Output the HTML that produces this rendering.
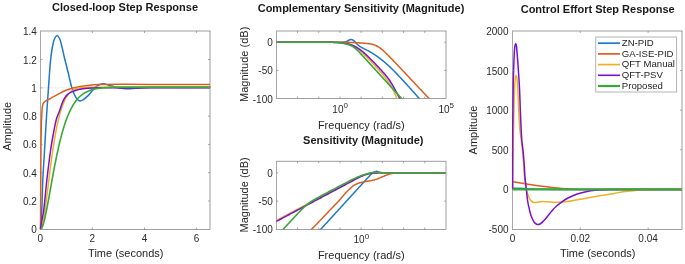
<!DOCTYPE html>
<html><head><meta charset="utf-8"><style>html,body{margin:0;padding:0;background:#fff;overflow:hidden}svg{display:block;will-change:transform}</style></head><body>
<svg width="685" height="264" viewBox="0 0 685 264" font-family='"Liberation Sans", sans-serif'>
<rect width="685" height="264" fill="#ffffff"/>
<defs>
<clipPath id="c1"><rect x="39.5" y="30.0" width="171.0" height="199.5"/></clipPath>
<clipPath id="c2"><rect x="275.5" y="30.0" width="171.0" height="68.5"/></clipPath>
<clipPath id="c3"><rect x="275.5" y="160.3" width="171.0" height="69.19999999999999"/></clipPath>
<clipPath id="c4"><rect x="511.5" y="30.0" width="171.0" height="199.5"/></clipPath>
</defs>
<line x1="40.0" y1="31.0" x2="210.5" y2="31.0" stroke="#9e9e9e" stroke-width="1"/>
<line x1="210.0" y1="31.0" x2="210.0" y2="229.5" stroke="#9e9e9e" stroke-width="1"/>
<line x1="40.5" y1="31.0" x2="40.5" y2="229.5" stroke="#a8a8a8" stroke-width="1"/>
<line x1="40.0" y1="229.5" x2="210.0" y2="229.5" stroke="#a0a0a0" stroke-width="1"/>
<line x1="276.0" y1="31.0" x2="446.5" y2="31.0" stroke="#9e9e9e" stroke-width="1"/>
<line x1="446.0" y1="31.0" x2="446.0" y2="98.5" stroke="#9e9e9e" stroke-width="1"/>
<line x1="276.5" y1="31.0" x2="276.5" y2="98.5" stroke="#a8a8a8" stroke-width="1"/>
<line x1="276.0" y1="98.5" x2="446.0" y2="98.5" stroke="#a0a0a0" stroke-width="1"/>
<line x1="276.0" y1="161.3" x2="446.5" y2="161.3" stroke="#9e9e9e" stroke-width="1"/>
<line x1="446.0" y1="161.3" x2="446.0" y2="229.5" stroke="#9e9e9e" stroke-width="1"/>
<line x1="276.5" y1="161.3" x2="276.5" y2="229.5" stroke="#a8a8a8" stroke-width="1"/>
<line x1="276.0" y1="229.5" x2="446.0" y2="229.5" stroke="#a0a0a0" stroke-width="1"/>
<line x1="512.0" y1="31.0" x2="682.5" y2="31.0" stroke="#9e9e9e" stroke-width="1"/>
<line x1="682.0" y1="31.0" x2="682.0" y2="229.5" stroke="#9e9e9e" stroke-width="1"/>
<line x1="512.5" y1="31.0" x2="512.5" y2="229.5" stroke="#a8a8a8" stroke-width="1"/>
<line x1="512.0" y1="229.5" x2="682.0" y2="229.5" stroke="#a0a0a0" stroke-width="1"/>
<line x1="40.5" y1="87.85" x2="210.0" y2="87.85" stroke="#dadada" stroke-width="0.8" stroke-dasharray="1.6,1.2"/>
<path d="M40.30,229.30 C40.78,223.20 41.36,217.85 41.75,211.00 C42.24,202.23 42.29,191.00 42.75,181.00 C43.21,171.00 43.91,161.08 44.50,151.00 C45.10,140.75 45.67,130.07 46.30,120.00 C46.90,110.43 47.51,101.64 48.20,92.00 C48.94,81.69 49.68,68.48 50.60,60.00 C51.21,54.37 51.80,49.92 52.60,46.00 C53.19,43.09 53.67,40.39 54.60,38.50 C55.26,37.16 56.19,35.43 57.00,35.40 C57.76,35.38 58.64,36.83 59.30,38.00 C60.26,39.70 60.76,42.29 61.50,45.00 C62.49,48.65 63.44,53.59 64.50,58.00 C65.60,62.59 66.84,67.29 68.00,72.00 C69.18,76.79 70.42,82.73 71.50,86.50 C72.20,88.95 72.72,90.61 73.50,92.50 C74.24,94.30 75.09,96.21 76.00,97.60 C76.72,98.70 77.48,99.76 78.30,100.30 C78.93,100.71 79.59,100.92 80.30,100.90 C81.14,100.87 82.00,100.49 83.00,99.90 C84.60,98.96 86.83,96.90 88.60,95.10 C90.48,93.19 92.23,90.38 93.90,88.70 C95.15,87.44 96.10,86.51 97.50,85.70 C99.05,84.80 100.97,83.80 102.90,83.70 C105.04,83.59 107.79,84.95 109.80,85.50 C111.38,85.93 112.47,86.30 114.00,86.70 C115.82,87.17 117.99,87.75 120.00,88.10 C121.99,88.45 124.00,88.72 126.00,88.80 C128.00,88.88 129.86,88.73 132.00,88.60 C134.48,88.45 137.18,88.08 140.00,87.90 C143.15,87.70 146.09,87.58 150.00,87.50 C155.52,87.39 162.19,87.49 170.00,87.50 C181.05,87.51 196.67,87.57 210.00,87.60" fill="none" stroke="#1f78c8" stroke-width="1.5" stroke-linejoin="round" stroke-linecap="butt" clip-path="url(#c1)"/>
<path d="M40.30,229.30 C40.37,221.20 40.42,213.07 40.50,205.00 C40.57,196.98 40.68,189.45 40.75,181.00 C40.83,171.56 40.84,160.64 40.95,151.00 C41.05,142.02 41.14,132.18 41.35,125.00 C41.50,119.92 41.65,115.50 41.90,112.00 C42.07,109.62 42.15,107.66 42.50,106.00 C42.75,104.78 42.94,103.73 43.50,102.90 C44.01,102.13 44.76,101.68 45.60,101.10 C46.65,100.37 48.13,99.70 49.40,99.00 C50.67,98.30 51.79,97.68 53.20,96.90 C54.97,95.92 57.35,94.61 59.20,93.60 C60.78,92.73 61.87,91.98 63.60,91.20 C65.90,90.16 69.11,89.00 71.90,88.20 C74.64,87.41 77.47,86.87 80.20,86.40 C82.83,85.95 85.12,85.68 88.00,85.40 C91.57,85.05 95.40,84.78 100.00,84.60 C106.23,84.35 114.22,84.34 122.00,84.30 C130.77,84.26 138.91,84.38 150.00,84.40 C166.23,84.43 190.00,84.40 210.00,84.40" fill="none" stroke="#dd5d20" stroke-width="1.5" stroke-linejoin="round" stroke-linecap="butt" clip-path="url(#c1)"/>
<path d="M40.30,229.30 L40.56,229.54 L40.82,229.56 L41.08,229.39 L41.34,229.03 L41.60,228.49 L41.86,227.80 L42.12,226.95 L42.38,225.97 L42.64,224.86 L42.91,223.63 L43.17,222.29 L43.43,220.86 L43.69,219.33 L43.95,217.72 L44.21,216.04 L44.47,214.29 L44.73,212.47 L44.99,210.61 L45.25,208.69 L45.51,206.73 L45.77,204.74 L46.03,202.71 L46.29,200.66 L46.55,198.59 L46.81,196.50 L47.07,194.39 L47.33,192.28 L47.59,190.15 L47.85,188.03 L48.11,185.91 L48.38,183.79 L48.64,181.67 L48.90,179.57 L49.16,177.47 L49.42,175.39 L49.68,173.32 L49.94,171.27 L50.20,169.24 L50.46,167.23 L50.72,165.24 L50.98,163.27 L51.24,161.33 L51.50,159.42 L51.76,157.53 L52.02,155.66 L52.28,153.83 L52.54,152.02 L52.80,150.25 L53.06,148.50 L53.32,146.78 L53.59,145.10 L53.85,143.44 L54.11,141.82 L54.37,140.23 L54.63,138.67 L54.89,137.14 L55.15,135.64 L55.41,134.18 L55.67,132.75 L55.93,131.34 L56.19,129.97 L56.71,127.32 L57.23,124.79 L57.76,122.39 L58.28,120.10 L58.80,117.93 L59.32,115.87 L59.84,113.92 L60.37,112.08 L60.89,110.34 L61.41,108.69 L61.93,107.15 L62.45,105.69 L62.97,104.32 L63.50,103.04 L64.02,101.83 L64.54,100.70 L65.06,99.65 L65.58,98.66 L66.11,97.74 L66.63,96.88 L67.15,96.07 L67.67,95.33 L68.19,94.63 L68.72,93.99 L69.24,93.39 L69.76,92.84 L70.28,92.32 L70.80,91.85 L71.32,91.41 L71.85,91.01 L72.37,90.64 L72.89,90.29 L73.41,89.98 L73.93,89.69 L74.46,89.43 L74.98,89.19 L75.50,88.97 L76.02,88.77 L76.54,88.58 L77.07,88.42 L77.59,88.26 L78.11,88.13 L78.63,88.01 L79.15,87.89 L79.67,87.79 L80.20,87.70 L80.72,87.62 L81.24,87.55 L81.76,87.49 L82.28,87.43 L82.81,87.38 L83.33,87.34 L83.85,87.30 L84.37,87.27 L84.89,87.24 L85.42,87.22 L85.94,87.20 L86.46,87.18 L86.98,87.17 L87.50,87.16 L88.02,87.15 L88.55,87.14 L89.07,87.14 L89.59,87.13 L90.11,87.13 L90.63,87.13 L91.16,87.13 L91.68,87.13 L92.20,87.14 L92.72,87.14 L93.24,87.15 L93.77,87.15 L94.29,87.15 L94.81,87.16 L95.33,87.17 L95.85,87.17 L96.37,87.18 L96.90,87.18 L97.42,87.19 L97.94,87.20 L98.46,87.20 L98.98,87.21 L99.51,87.22 L100.03,87.22 L100.55,87.23 L101.07,87.23 L101.59,87.24 L102.12,87.24 L102.64,87.25 L103.16,87.25 L103.68,87.26 L104.20,87.26 L104.72,87.27 L105.25,87.27 L105.77,87.28 L106.29,87.28 L106.81,87.28 L107.33,87.29 L107.86,87.29 L108.38,87.29 L108.90,87.30 L109.42,87.30 L109.94,87.30 L110.47,87.31 L110.99,87.31 L111.51,87.31 L112.03,87.31 L112.55,87.32 L113.07,87.32 L113.60,87.32 L114.12,87.32 L114.64,87.32 L115.16,87.32 L115.68,87.33 L116.21,87.33 L116.73,87.33 L117.25,87.33 L117.77,87.33 L118.29,87.33 L118.82,87.33 L119.34,87.33 L119.86,87.33 L120.38,87.33 L120.90,87.33 L121.42,87.34 L121.95,87.34 L122.47,87.34 L122.99,87.34 L123.51,87.34 L124.03,87.34 L124.56,87.34 L125.08,87.34 L125.60,87.34 L126.12,87.34 L126.64,87.34 L127.16,87.34 L127.69,87.34 L128.21,87.34 L128.73,87.34 L129.25,87.34 L129.77,87.34 L130.30,87.34 L130.82,87.34 L131.34,87.34 L131.86,87.34 L132.38,87.34 L132.91,87.34 L133.43,87.34 L133.95,87.34 L134.47,87.34 L134.99,87.34 L135.51,87.34 L136.04,87.34 L136.56,87.34 L137.08,87.34 L137.60,87.34 L138.12,87.34 L138.65,87.34 L139.17,87.34 L139.69,87.34 L140.21,87.34 L140.73,87.34 L141.26,87.34 L141.78,87.34 L142.30,87.34 L142.82,87.34 L143.34,87.34 L143.86,87.34 L144.39,87.34 L144.91,87.34 L145.43,87.34 L145.95,87.34 L146.47,87.34 L147.00,87.34 L147.52,87.34 L148.04,87.34 L148.56,87.34 L149.08,87.34 L149.61,87.34 L150.13,87.34 L150.65,87.34 L151.17,87.34 L151.69,87.34 L152.21,87.34 L152.74,87.34 L153.26,87.34 L153.78,87.34 L154.30,87.34 L154.82,87.34 L155.35,87.34 L155.87,87.34 L156.39,87.34 L156.91,87.34 L157.43,87.34 L157.96,87.34 L158.48,87.34 L159.00,87.34 L159.52,87.34 L160.04,87.34 L160.56,87.34 L161.09,87.34 L161.61,87.34 L162.13,87.34 L162.65,87.34 L163.17,87.34 L163.70,87.34 L164.22,87.34 L164.74,87.34 L165.26,87.34 L165.78,87.34 L166.31,87.34 L166.83,87.34 L167.35,87.34 L167.87,87.34 L168.39,87.34 L168.91,87.34 L169.44,87.34 L169.96,87.34 L170.48,87.34 L171.00,87.34 L171.52,87.34 L172.05,87.34 L172.57,87.34 L173.09,87.34 L173.61,87.34 L174.13,87.34 L174.66,87.34 L175.18,87.34 L175.70,87.34 L176.22,87.34 L176.74,87.34 L177.26,87.34 L177.79,87.34 L178.31,87.34 L178.83,87.34 L179.35,87.34 L179.87,87.34 L180.40,87.34 L180.92,87.34 L181.44,87.34 L181.96,87.34 L182.48,87.34 L183.01,87.34 L183.53,87.34 L184.05,87.34 L184.57,87.34 L185.09,87.34 L185.61,87.34 L186.14,87.34 L186.66,87.34 L187.18,87.34 L187.70,87.34 L188.22,87.34 L188.75,87.34 L189.27,87.34 L189.79,87.34 L190.31,87.34 L190.83,87.34 L191.36,87.34 L191.88,87.34 L192.40,87.34 L192.92,87.34 L193.44,87.34 L193.96,87.34 L194.49,87.34 L195.01,87.34 L195.53,87.34 L196.05,87.34 L196.57,87.34 L197.10,87.34 L197.62,87.34 L198.14,87.34 L198.66,87.34 L199.18,87.34 L199.71,87.34 L200.23,87.34 L200.75,87.34 L201.27,87.34 L201.79,87.34 L202.31,87.34 L202.84,87.34 L203.36,87.34 L203.88,87.34 L204.40,87.34 L204.92,87.34 L205.45,87.34 L205.97,87.34 L206.49,87.34 L207.01,87.34 L207.53,87.34 L208.06,87.34 L208.58,87.34 L209.10,87.34 L209.62,87.34 L210.14,87.34 L210.66,87.34 L211.19,87.34 L211.71,87.34 L212.23,87.34" fill="none" stroke="#edb125" stroke-width="1.5" stroke-linejoin="round" stroke-linecap="butt" clip-path="url(#c1)"/>
<path d="M40.30,229.30 C40.80,226.53 41.28,223.90 41.80,221.00 C42.37,217.82 43.00,215.24 43.60,211.00 C44.64,203.69 45.60,190.99 46.75,181.00 C47.90,170.99 49.26,159.58 50.50,151.00 C51.44,144.52 52.24,139.57 53.30,134.00 C54.33,128.57 55.43,122.37 56.75,118.00 C57.71,114.83 59.01,112.46 59.90,110.00 C60.65,107.92 61.06,106.12 61.80,104.20 C62.56,102.22 63.37,99.98 64.40,98.30 C65.28,96.86 66.25,95.64 67.40,94.60 C68.52,93.58 69.66,92.85 71.20,92.10 C73.23,91.12 76.04,90.22 78.70,89.60 C81.60,88.92 84.69,88.60 88.00,88.30 C91.74,87.96 95.40,87.89 100.00,87.80 C106.23,87.68 114.23,87.90 122.00,87.90 C130.77,87.90 138.91,87.82 150.00,87.80 C166.23,87.76 190.00,87.77 210.00,87.75" fill="none" stroke="#7a10d2" stroke-width="1.5" stroke-linejoin="round" stroke-linecap="butt" clip-path="url(#c1)"/>
<path d="M40.30,229.30 L40.56,229.31 L40.82,229.21 L41.08,229.02 L41.34,228.74 L41.60,228.37 L41.86,227.92 L42.12,227.39 L42.38,226.79 L42.64,226.12 L42.91,225.38 L43.17,224.58 L43.43,223.73 L43.69,222.82 L43.95,221.86 L44.21,220.85 L44.47,219.79 L44.73,218.70 L44.99,217.56 L45.25,216.39 L45.51,215.19 L45.77,213.95 L46.03,212.69 L46.29,211.40 L46.55,210.09 L46.81,208.75 L47.07,207.40 L47.33,206.03 L47.59,204.64 L47.85,203.24 L48.11,201.82 L48.38,200.40 L48.64,198.96 L48.90,197.52 L49.16,196.07 L49.42,194.62 L49.68,193.16 L49.94,191.70 L50.20,190.24 L50.46,188.78 L50.72,187.32 L50.98,185.86 L51.24,184.41 L51.50,182.95 L51.76,181.51 L52.02,180.06 L52.28,178.63 L52.54,177.20 L52.80,175.78 L53.06,174.36 L53.32,172.96 L53.59,171.56 L53.85,170.18 L54.11,168.80 L54.37,167.44 L54.63,166.09 L54.89,164.75 L55.15,163.42 L55.41,162.10 L55.67,160.79 L55.93,159.50 L56.19,158.22 L56.71,155.70 L57.23,153.24 L57.76,150.83 L58.28,148.48 L58.80,146.19 L59.32,143.96 L59.84,141.79 L60.37,139.68 L60.89,137.63 L61.41,135.64 L61.93,133.71 L62.45,131.84 L62.97,130.03 L63.50,128.28 L64.02,126.58 L64.54,124.94 L65.06,123.35 L65.58,121.82 L66.11,120.34 L66.63,118.92 L67.15,117.54 L67.67,116.22 L68.19,114.94 L68.72,113.71 L69.24,112.53 L69.76,111.39 L70.28,110.30 L70.80,109.25 L71.32,108.24 L71.85,107.27 L72.37,106.34 L72.89,105.44 L73.41,104.59 L73.93,103.76 L74.46,102.98 L74.98,102.22 L75.50,101.50 L76.02,100.80 L76.54,100.14 L77.07,99.51 L77.59,98.90 L78.11,98.32 L78.63,97.77 L79.15,97.24 L79.67,96.73 L80.20,96.25 L80.72,95.78 L81.24,95.34 L81.76,94.92 L82.28,94.52 L82.81,94.14 L83.33,93.77 L83.85,93.43 L84.37,93.10 L84.89,92.78 L85.42,92.48 L85.94,92.19 L86.46,91.92 L86.98,91.66 L87.50,91.42 L88.02,91.18 L88.55,90.96 L89.07,90.75 L89.59,90.55 L90.11,90.35 L90.63,90.17 L91.16,90.00 L91.68,89.84 L92.20,89.68 L92.72,89.53 L93.24,89.40 L93.77,89.26 L94.29,89.14 L94.81,89.02 L95.33,88.91 L95.85,88.80 L96.37,88.70 L96.90,88.60 L97.42,88.51 L97.94,88.43 L98.46,88.35 L98.98,88.27 L99.51,88.20 L100.03,88.13 L100.55,88.06 L101.07,88.00 L101.59,87.95 L102.12,87.89 L102.64,87.84 L103.16,87.79 L103.68,87.75 L104.20,87.70 L104.72,87.66 L105.25,87.63 L105.77,87.59 L106.29,87.56 L106.81,87.52 L107.33,87.49 L107.86,87.47 L108.38,87.44 L108.90,87.41 L109.42,87.39 L109.94,87.37 L110.47,87.35 L110.99,87.33 L111.51,87.31 L112.03,87.30 L112.55,87.28 L113.07,87.26 L113.60,87.25 L114.12,87.24 L114.64,87.23 L115.16,87.21 L115.68,87.20 L116.21,87.19 L116.73,87.19 L117.25,87.18 L117.77,87.17 L118.29,87.16 L118.82,87.15 L119.34,87.15 L119.86,87.14 L120.38,87.14 L120.90,87.13 L121.42,87.13 L121.95,87.12 L122.47,87.12 L122.99,87.11 L123.51,87.11 L124.03,87.11 L124.56,87.10 L125.08,87.10 L125.60,87.10 L126.12,87.10 L126.64,87.10 L127.16,87.09 L127.69,87.09 L128.21,87.09 L128.73,87.09 L129.25,87.09 L129.77,87.09 L130.30,87.08 L130.82,87.08 L131.34,87.08 L131.86,87.08 L132.38,87.08 L132.91,87.08 L133.43,87.08 L133.95,87.08 L134.47,87.08 L134.99,87.08 L135.51,87.08 L136.04,87.08 L136.56,87.08 L137.08,87.08 L137.60,87.08 L138.12,87.08 L138.65,87.08 L139.17,87.08 L139.69,87.08 L140.21,87.08 L140.73,87.08 L141.26,87.08 L141.78,87.08 L142.30,87.08 L142.82,87.08 L143.34,87.08 L143.86,87.08 L144.39,87.08 L144.91,87.08 L145.43,87.08 L145.95,87.08 L146.47,87.08 L147.00,87.08 L147.52,87.08 L148.04,87.08 L148.56,87.08 L149.08,87.08 L149.61,87.08 L150.13,87.08 L150.65,87.08 L151.17,87.08 L151.69,87.08 L152.21,87.08 L152.74,87.08 L153.26,87.08 L153.78,87.08 L154.30,87.08 L154.82,87.08 L155.35,87.08 L155.87,87.08 L156.39,87.08 L156.91,87.08 L157.43,87.08 L157.96,87.08 L158.48,87.08 L159.00,87.08 L159.52,87.08 L160.04,87.08 L160.56,87.08 L161.09,87.08 L161.61,87.08 L162.13,87.08 L162.65,87.08 L163.17,87.08 L163.70,87.08 L164.22,87.08 L164.74,87.08 L165.26,87.08 L165.78,87.08 L166.31,87.08 L166.83,87.08 L167.35,87.08 L167.87,87.08 L168.39,87.08 L168.91,87.08 L169.44,87.08 L169.96,87.08 L170.48,87.08 L171.00,87.09 L171.52,87.09 L172.05,87.09 L172.57,87.09 L173.09,87.09 L173.61,87.09 L174.13,87.09 L174.66,87.09 L175.18,87.09 L175.70,87.09 L176.22,87.09 L176.74,87.09 L177.26,87.09 L177.79,87.09 L178.31,87.09 L178.83,87.09 L179.35,87.09 L179.87,87.09 L180.40,87.09 L180.92,87.09 L181.44,87.09 L181.96,87.09 L182.48,87.09 L183.01,87.09 L183.53,87.09 L184.05,87.09 L184.57,87.09 L185.09,87.09 L185.61,87.09 L186.14,87.09 L186.66,87.09 L187.18,87.09 L187.70,87.09 L188.22,87.09 L188.75,87.09 L189.27,87.09 L189.79,87.09 L190.31,87.09 L190.83,87.09 L191.36,87.09 L191.88,87.09 L192.40,87.09 L192.92,87.09 L193.44,87.09 L193.96,87.09 L194.49,87.09 L195.01,87.09 L195.53,87.09 L196.05,87.09 L196.57,87.09 L197.10,87.09 L197.62,87.09 L198.14,87.09 L198.66,87.09 L199.18,87.09 L199.71,87.09 L200.23,87.09 L200.75,87.09 L201.27,87.09 L201.79,87.09 L202.31,87.09 L202.84,87.09 L203.36,87.09 L203.88,87.09 L204.40,87.09 L204.92,87.09 L205.45,87.09 L205.97,87.09 L206.49,87.09 L207.01,87.09 L207.53,87.09 L208.06,87.09 L208.58,87.09 L209.10,87.09 L209.62,87.09 L210.14,87.09 L210.66,87.09 L211.19,87.09 L211.71,87.09 L212.23,87.09" fill="none" stroke="#38a838" stroke-width="1.6" stroke-linejoin="round" stroke-linecap="butt" clip-path="url(#c1)"/>
<line x1="92.4" y1="229.5" x2="92.4" y2="227.6" stroke="#8a8a8a" stroke-width="0.8"/>
<line x1="92.4" y1="31.0" x2="92.4" y2="32.9" stroke="#8a8a8a" stroke-width="0.8"/>
<line x1="144.5" y1="229.5" x2="144.5" y2="227.6" stroke="#8a8a8a" stroke-width="0.8"/>
<line x1="144.5" y1="31.0" x2="144.5" y2="32.9" stroke="#8a8a8a" stroke-width="0.8"/>
<line x1="196.60000000000002" y1="229.5" x2="196.60000000000002" y2="227.6" stroke="#8a8a8a" stroke-width="0.8"/>
<line x1="196.60000000000002" y1="31.0" x2="196.60000000000002" y2="32.9" stroke="#8a8a8a" stroke-width="0.8"/>
<line x1="40.5" y1="201.01000000000002" x2="42.4" y2="201.01000000000002" stroke="#8a8a8a" stroke-width="0.8"/>
<line x1="210.0" y1="201.01000000000002" x2="208.1" y2="201.01000000000002" stroke="#8a8a8a" stroke-width="0.8"/>
<line x1="40.5" y1="172.72000000000003" x2="42.4" y2="172.72000000000003" stroke="#8a8a8a" stroke-width="0.8"/>
<line x1="210.0" y1="172.72000000000003" x2="208.1" y2="172.72000000000003" stroke="#8a8a8a" stroke-width="0.8"/>
<line x1="40.5" y1="144.43" x2="42.4" y2="144.43" stroke="#8a8a8a" stroke-width="0.8"/>
<line x1="210.0" y1="144.43" x2="208.1" y2="144.43" stroke="#8a8a8a" stroke-width="0.8"/>
<line x1="40.5" y1="116.14000000000001" x2="42.4" y2="116.14000000000001" stroke="#8a8a8a" stroke-width="0.8"/>
<line x1="210.0" y1="116.14000000000001" x2="208.1" y2="116.14000000000001" stroke="#8a8a8a" stroke-width="0.8"/>
<line x1="40.5" y1="87.85000000000002" x2="42.4" y2="87.85000000000002" stroke="#8a8a8a" stroke-width="0.8"/>
<line x1="210.0" y1="87.85000000000002" x2="208.1" y2="87.85000000000002" stroke="#8a8a8a" stroke-width="0.8"/>
<line x1="40.5" y1="59.56000000000003" x2="42.4" y2="59.56000000000003" stroke="#8a8a8a" stroke-width="0.8"/>
<line x1="210.0" y1="59.56000000000003" x2="208.1" y2="59.56000000000003" stroke="#8a8a8a" stroke-width="0.8"/>
<text x="36.9" y="233.3" font-size="10" text-anchor="end" font-weight="normal" fill="#2a2a2a">0</text>
<text x="36.9" y="205.01000000000002" font-size="10" text-anchor="end" font-weight="normal" fill="#2a2a2a">0.2</text>
<text x="36.9" y="176.72000000000003" font-size="10" text-anchor="end" font-weight="normal" fill="#2a2a2a">0.4</text>
<text x="36.9" y="148.43" font-size="10" text-anchor="end" font-weight="normal" fill="#2a2a2a">0.6</text>
<text x="36.9" y="120.14000000000001" font-size="10" text-anchor="end" font-weight="normal" fill="#2a2a2a">0.8</text>
<text x="36.9" y="91.85000000000002" font-size="10" text-anchor="end" font-weight="normal" fill="#2a2a2a">1</text>
<text x="36.9" y="63.56" font-size="10" text-anchor="end" font-weight="normal" fill="#2a2a2a">1.2</text>
<text x="36.9" y="35.27000000000001" font-size="10" text-anchor="end" font-weight="normal" fill="#2a2a2a">1.4</text>
<text x="40.3" y="241.8" font-size="10" text-anchor="middle" font-weight="normal" fill="#2a2a2a">0</text>
<text x="92.4" y="241.8" font-size="10" text-anchor="middle" font-weight="normal" fill="#2a2a2a">2</text>
<text x="144.5" y="241.8" font-size="10" text-anchor="middle" font-weight="normal" fill="#2a2a2a">4</text>
<text x="196.60000000000002" y="241.8" font-size="10" text-anchor="middle" font-weight="normal" fill="#2a2a2a">6</text>
<text x="125.8" y="256.8" font-size="11" text-anchor="middle" font-weight="normal" fill="#262626">Time (seconds)</text>
<text x="0" y="0" font-size="11" text-anchor="middle" fill="#262626" transform="translate(10.6,126.3) rotate(-90)">Amplitude</text>
<text x="125.0" y="10.7" font-size="11" text-anchor="middle" font-weight="bold" fill="#1a1a1a">Closed-loop Step Response</text>
<path d="M276.30,42.20 L276.80,42.20 L277.30,42.20 L277.80,42.20 L278.30,42.20 L278.80,42.20 L279.30,42.20 L279.80,42.20 L280.30,42.20 L280.80,42.20 L281.30,42.20 L281.80,42.20 L282.30,42.20 L282.80,42.20 L283.30,42.20 L283.80,42.20 L284.30,42.20 L284.80,42.20 L285.30,42.20 L285.80,42.20 L286.30,42.20 L286.80,42.20 L287.30,42.20 L287.80,42.20 L288.30,42.20 L288.80,42.20 L289.30,42.20 L289.80,42.20 L290.30,42.20 L290.80,42.20 L291.30,42.20 L291.80,42.20 L292.30,42.20 L292.80,42.20 L293.30,42.20 L293.80,42.20 L294.30,42.20 L294.80,42.20 L295.30,42.20 L295.80,42.20 L296.30,42.20 L296.80,42.20 L297.30,42.20 L297.80,42.20 L298.30,42.20 L298.80,42.20 L299.30,42.20 L299.80,42.20 L300.30,42.20 L300.80,42.20 L301.30,42.20 L301.80,42.20 L302.30,42.20 L302.80,42.20 L303.30,42.20 L303.80,42.20 L304.30,42.20 L304.80,42.20 L305.30,42.20 L305.80,42.20 L306.30,42.20 L306.80,42.20 L307.30,42.20 L307.80,42.20 L308.30,42.20 L308.80,42.20 L309.30,42.20 L309.80,42.20 L310.30,42.20 L310.80,42.20 L311.30,42.20 L311.80,42.20 L312.30,42.20 L312.80,42.20 L313.30,42.20 L313.80,42.20 L314.30,42.20 L314.80,42.20 L315.30,42.20 L315.80,42.20 L316.30,42.20 L316.80,42.20 L317.30,42.20 L317.80,42.20 L318.30,42.21 L318.80,42.21 L319.30,42.21 L319.80,42.21 L320.30,42.21 L320.80,42.21 L321.30,42.21 L321.80,42.21 L322.30,42.21 L322.80,42.21 L323.30,42.21 L323.80,42.21 L324.30,42.21 L324.80,42.21 L325.30,42.21 L325.80,42.21 L326.30,42.21 L326.80,42.21 L327.30,42.21 L327.80,42.22 L328.30,42.22 L328.80,42.22 L329.30,42.22 L329.80,42.22 L330.30,42.22 L330.80,42.22 L331.30,42.22 L331.80,42.22 L332.30,42.23 L332.80,42.23 L333.30,42.23 L333.80,42.23 L334.30,42.23 L334.80,42.23 L335.30,42.24 L335.80,42.24 L336.30,42.24 L336.80,42.24 L337.30,42.25 L337.80,42.25 L338.30,42.25 L338.80,42.25 L339.30,42.26 L339.80,42.26 L340.30,42.26 L340.80,42.25 L341.30,42.25 L341.80,42.23 L342.30,42.21 L342.80,42.19 L343.30,42.15 L343.80,42.09 L344.30,42.01 L344.80,41.91 L345.30,41.79 L345.80,41.64 L346.30,41.46 L346.80,41.25 L347.30,41.02 L347.80,40.77 L348.30,40.51 L348.80,40.25 L349.30,40.02 L349.80,39.82 L350.30,39.66 L350.80,39.57 L351.30,39.55 L351.80,39.61 L352.30,39.76 L352.80,39.99 L353.30,40.30 L353.80,40.69 L354.30,41.13 L354.80,41.62 L355.30,42.14 L355.80,42.67 L356.30,43.21 L356.80,43.73 L357.30,44.23 L357.80,44.71 L358.30,45.16 L358.80,45.57 L359.30,45.95 L359.80,46.31 L360.30,46.64 L360.80,46.95 L361.30,47.24 L361.80,47.52 L362.30,47.79 L362.80,48.05 L363.30,48.31 L363.80,48.57 L364.30,48.82 L364.80,49.08 L365.30,49.33 L365.80,49.59 L366.30,49.85 L366.80,50.11 L367.30,50.38 L367.80,50.65 L368.30,50.92 L368.80,51.20 L369.30,51.47 L369.80,51.76 L370.30,52.04 L370.80,52.33 L371.30,52.63 L371.80,52.92 L372.30,53.23 L372.80,53.53 L373.30,53.84 L373.80,54.16 L374.30,54.48 L374.80,54.80 L375.30,55.13 L375.80,55.47 L376.30,55.81 L376.80,56.15 L377.30,56.50 L377.80,56.85 L378.30,57.21 L378.80,57.58 L379.30,57.95 L379.80,58.32 L380.30,58.70 L380.80,59.09 L381.30,59.48 L381.80,59.88 L382.30,60.28 L382.80,60.68 L383.30,61.10 L383.80,61.51 L384.30,61.93 L384.80,62.36 L385.30,62.79 L385.80,63.23 L386.30,63.67 L386.80,64.12 L387.30,64.57 L387.80,65.02 L388.30,65.48 L388.80,65.95 L389.30,66.41 L389.80,66.89 L390.30,67.36 L390.80,67.84 L391.30,68.33 L391.80,68.81 L392.30,69.30 L392.80,69.80 L393.30,70.30 L393.80,70.80 L394.30,71.30 L394.80,71.81 L395.30,72.32 L395.80,72.83 L396.30,73.34 L396.80,73.86 L397.30,74.38 L397.80,74.90 L398.30,75.43 L398.80,75.95 L399.30,76.48 L399.80,77.01 L400.30,77.54 L400.80,78.08 L401.30,78.61 L401.80,79.15 L402.30,79.69 L402.80,80.23 L403.30,80.77 L403.80,81.31 L404.30,81.86 L404.80,82.40 L405.30,82.95 L405.80,83.49 L406.30,84.04 L406.80,84.59 L407.30,85.14 L407.80,85.69 L408.30,86.25 L408.80,86.80 L409.30,87.35 L409.80,87.91 L410.30,88.46 L410.80,89.02 L411.30,89.57 L411.80,90.13 L412.30,90.69 L412.80,91.25 L413.30,91.80 L413.80,92.36 L414.30,92.92 L414.80,93.48 L415.30,94.04 L415.80,94.60 L416.30,95.16 L416.80,95.72 L417.30,96.28 L417.80,96.85 L418.30,97.41 L418.80,97.97 L419.30,98.53 L419.80,99.10 L420.30,99.66 L420.80,100.22 L421.30,100.78" fill="none" stroke="#1f78c8" stroke-width="1.5" stroke-linejoin="round" stroke-linecap="butt" clip-path="url(#c2)"/>
<path d="M276.30,42.20 L276.80,42.20 L277.30,42.20 L277.80,42.20 L278.30,42.20 L278.80,42.20 L279.30,42.20 L279.80,42.20 L280.30,42.20 L280.80,42.20 L281.30,42.20 L281.80,42.20 L282.30,42.20 L282.80,42.20 L283.30,42.20 L283.80,42.20 L284.30,42.20 L284.80,42.20 L285.30,42.20 L285.80,42.20 L286.30,42.20 L286.80,42.20 L287.30,42.20 L287.80,42.20 L288.30,42.20 L288.80,42.20 L289.30,42.20 L289.80,42.20 L290.30,42.20 L290.80,42.20 L291.30,42.20 L291.80,42.20 L292.30,42.20 L292.80,42.20 L293.30,42.20 L293.80,42.20 L294.30,42.20 L294.80,42.20 L295.30,42.20 L295.80,42.20 L296.30,42.20 L296.80,42.20 L297.30,42.20 L297.80,42.20 L298.30,42.20 L298.80,42.20 L299.30,42.20 L299.80,42.20 L300.30,42.20 L300.80,42.20 L301.30,42.20 L301.80,42.20 L302.30,42.20 L302.80,42.20 L303.30,42.20 L303.80,42.20 L304.30,42.20 L304.80,42.20 L305.30,42.20 L305.80,42.20 L306.30,42.20 L306.80,42.20 L307.30,42.20 L307.80,42.20 L308.30,42.20 L308.80,42.20 L309.30,42.20 L309.80,42.20 L310.30,42.20 L310.80,42.20 L311.30,42.20 L311.80,42.20 L312.30,42.20 L312.80,42.20 L313.30,42.20 L313.80,42.20 L314.30,42.20 L314.80,42.20 L315.30,42.20 L315.80,42.20 L316.30,42.20 L316.80,42.20 L317.30,42.20 L317.80,42.20 L318.30,42.20 L318.80,42.20 L319.30,42.20 L319.80,42.20 L320.30,42.20 L320.80,42.20 L321.30,42.20 L321.80,42.20 L322.30,42.20 L322.80,42.20 L323.30,42.20 L323.80,42.20 L324.30,42.20 L324.80,42.20 L325.30,42.20 L325.80,42.20 L326.30,42.20 L326.80,42.20 L327.30,42.20 L327.80,42.20 L328.30,42.20 L328.80,42.20 L329.30,42.20 L329.80,42.20 L330.30,42.20 L330.80,42.20 L331.30,42.20 L331.80,42.20 L332.30,42.20 L332.80,42.20 L333.30,42.20 L333.80,42.20 L334.30,42.20 L334.80,42.20 L335.30,42.20 L335.80,42.20 L336.30,42.20 L336.80,42.20 L337.30,42.20 L337.80,42.20 L338.30,42.20 L338.80,42.21 L339.30,42.21 L339.80,42.21 L340.30,42.21 L340.80,42.21 L341.30,42.22 L341.80,42.22 L342.30,42.22 L342.80,42.23 L343.30,42.23 L343.80,42.24 L344.30,42.24 L344.80,42.25 L345.30,42.26 L345.80,42.27 L346.30,42.28 L346.80,42.30 L347.30,42.31 L347.80,42.33 L348.30,42.34 L348.80,42.36 L349.30,42.38 L349.80,42.40 L350.30,42.42 L350.80,42.44 L351.30,42.47 L351.80,42.49 L352.30,42.51 L352.80,42.54 L353.30,42.56 L353.80,42.59 L354.30,42.61 L354.80,42.64 L355.30,42.67 L355.80,42.69 L356.30,42.72 L356.80,42.75 L357.30,42.77 L357.80,42.80 L358.30,42.83 L358.80,42.86 L359.30,42.89 L359.80,42.92 L360.30,42.95 L360.80,42.98 L361.30,43.01 L361.80,43.04 L362.30,43.07 L362.80,43.11 L363.30,43.14 L363.80,43.18 L364.30,43.22 L364.80,43.26 L365.30,43.30 L365.80,43.34 L366.30,43.39 L366.80,43.44 L367.30,43.49 L367.80,43.55 L368.30,43.61 L368.80,43.67 L369.30,43.74 L369.80,43.82 L370.30,43.90 L370.80,43.99 L371.30,44.09 L371.80,44.20 L372.30,44.32 L372.80,44.45 L373.30,44.59 L373.80,44.74 L374.30,44.91 L374.80,45.09 L375.30,45.28 L375.80,45.49 L376.30,45.72 L376.80,45.97 L377.30,46.23 L377.80,46.51 L378.30,46.81 L378.80,47.12 L379.30,47.45 L379.80,47.80 L380.30,48.16 L380.80,48.54 L381.30,48.94 L381.80,49.34 L382.30,49.76 L382.80,50.19 L383.30,50.63 L383.80,51.08 L384.30,51.54 L384.80,52.01 L385.30,52.49 L385.80,52.97 L386.30,53.45 L386.80,53.95 L387.30,54.44 L387.80,54.95 L388.30,55.45 L388.80,55.96 L389.30,56.47 L389.80,56.98 L390.30,57.50 L390.80,58.02 L391.30,58.54 L391.80,59.06 L392.30,59.58 L392.80,60.10 L393.30,60.63 L393.80,61.15 L394.30,61.68 L394.80,62.20 L395.30,62.73 L395.80,63.26 L396.30,63.79 L396.80,64.31 L397.30,64.84 L397.80,65.37 L398.30,65.90 L398.80,66.43 L399.30,66.96 L399.80,67.49 L400.30,68.02 L400.80,68.55 L401.30,69.08 L401.80,69.61 L402.30,70.14 L402.80,70.67 L403.30,71.20 L403.80,71.73 L404.30,72.27 L404.80,72.80 L405.30,73.33 L405.80,73.86 L406.30,74.39 L406.80,74.92 L407.30,75.45 L407.80,75.98 L408.30,76.51 L408.80,77.04 L409.30,77.57 L409.80,78.11 L410.30,78.64 L410.80,79.17 L411.30,79.70 L411.80,80.23 L412.30,80.76 L412.80,81.29 L413.30,81.82 L413.80,82.35 L414.30,82.88 L414.80,83.42 L415.30,83.95 L415.80,84.48 L416.30,85.01 L416.80,85.54 L417.30,86.07 L417.80,86.60 L418.30,87.13 L418.80,87.66 L419.30,88.20 L419.80,88.73 L420.30,89.26 L420.80,89.79 L421.30,90.32 L421.80,90.85 L422.30,91.38 L422.80,91.91 L423.30,92.44 L423.80,92.98 L424.30,93.51 L424.80,94.04 L425.30,94.57 L425.80,95.10 L426.30,95.63 L426.80,96.16 L427.30,96.69 L427.80,97.22 L428.30,97.76 L428.80,98.29 L429.30,98.82 L429.80,99.35 L430.30,99.88 L430.80,100.41 L431.30,100.94" fill="none" stroke="#dd5d20" stroke-width="1.5" stroke-linejoin="round" stroke-linecap="butt" clip-path="url(#c2)"/>
<path d="M276.30,42.20 L276.80,42.20 L277.30,42.20 L277.80,42.20 L278.30,42.20 L278.80,42.20 L279.30,42.20 L279.80,42.20 L280.30,42.20 L280.80,42.20 L281.30,42.20 L281.80,42.20 L282.30,42.20 L282.80,42.20 L283.30,42.20 L283.80,42.20 L284.30,42.20 L284.80,42.20 L285.30,42.20 L285.80,42.20 L286.30,42.20 L286.80,42.20 L287.30,42.20 L287.80,42.20 L288.30,42.20 L288.80,42.20 L289.30,42.20 L289.80,42.20 L290.30,42.20 L290.80,42.20 L291.30,42.20 L291.80,42.20 L292.30,42.20 L292.80,42.20 L293.30,42.20 L293.80,42.20 L294.30,42.20 L294.80,42.20 L295.30,42.20 L295.80,42.20 L296.30,42.20 L296.80,42.20 L297.30,42.20 L297.80,42.20 L298.30,42.20 L298.80,42.20 L299.30,42.20 L299.80,42.20 L300.30,42.20 L300.80,42.20 L301.30,42.20 L301.80,42.20 L302.30,42.20 L302.80,42.20 L303.30,42.20 L303.80,42.20 L304.30,42.20 L304.80,42.20 L305.30,42.20 L305.80,42.20 L306.30,42.20 L306.80,42.20 L307.30,42.20 L307.80,42.20 L308.30,42.20 L308.80,42.20 L309.30,42.20 L309.80,42.20 L310.30,42.20 L310.80,42.20 L311.30,42.20 L311.80,42.20 L312.30,42.20 L312.80,42.20 L313.30,42.20 L313.80,42.20 L314.30,42.20 L314.80,42.20 L315.30,42.20 L315.80,42.20 L316.30,42.20 L316.80,42.20 L317.30,42.20 L317.80,42.20 L318.30,42.20 L318.80,42.20 L319.30,42.20 L319.80,42.21 L320.30,42.21 L320.80,42.21 L321.30,42.21 L321.80,42.21 L322.30,42.21 L322.80,42.21 L323.30,42.21 L323.80,42.21 L324.30,42.21 L324.80,42.21 L325.30,42.22 L325.80,42.22 L326.30,42.22 L326.80,42.22 L327.30,42.22 L327.80,42.23 L328.30,42.23 L328.80,42.23 L329.30,42.24 L329.80,42.24 L330.30,42.25 L330.80,42.25 L331.30,42.26 L331.80,42.26 L332.30,42.27 L332.80,42.28 L333.30,42.29 L333.80,42.29 L334.30,42.30 L334.80,42.32 L335.30,42.33 L335.80,42.34 L336.30,42.36 L336.80,42.37 L337.30,42.39 L337.80,42.41 L338.30,42.43 L338.80,42.46 L339.30,42.49 L339.80,42.52 L340.30,42.55 L340.80,42.59 L341.30,42.63 L341.80,42.67 L342.30,42.72 L342.80,42.77 L343.30,42.83 L343.80,42.90 L344.30,42.97 L344.80,43.04 L345.30,43.13 L345.80,43.22 L346.30,43.32 L346.80,43.43 L347.30,43.55 L347.80,43.67 L348.30,43.81 L348.80,43.96 L349.30,44.12 L349.80,44.29 L350.30,44.47 L350.80,44.67 L351.30,44.88 L351.80,45.10 L352.30,45.34 L352.80,45.59 L353.30,45.85 L353.80,46.13 L354.30,46.42 L354.80,46.73 L355.30,47.05 L355.80,47.38 L356.30,47.73 L356.80,48.08 L357.30,48.46 L357.80,48.84 L358.30,49.23 L358.80,49.64 L359.30,50.05 L359.80,50.48 L360.30,50.91 L360.80,51.35 L361.30,51.80 L361.80,52.26 L362.30,52.72 L362.80,53.20 L363.30,53.67 L363.80,54.16 L364.30,54.64 L364.80,55.14 L365.30,55.64 L365.80,56.14 L366.30,56.64 L366.80,57.15 L367.30,57.66 L367.80,58.18 L368.30,58.70 L368.80,59.22 L369.30,59.74 L369.80,60.26 L370.30,60.79 L370.80,61.32 L371.30,61.85 L371.80,62.38 L372.30,62.92 L372.80,63.45 L373.30,63.99 L373.80,64.53 L374.30,65.07 L374.80,65.61 L375.30,66.15 L375.80,66.70 L376.30,67.24 L376.80,67.79 L377.30,68.34 L377.80,68.89 L378.30,69.45 L378.80,70.01 L379.30,70.57 L379.80,71.13 L380.30,71.70 L380.80,72.27 L381.30,72.84 L381.80,73.42 L382.30,74.00 L382.80,74.59 L383.30,75.19 L383.80,75.79 L384.30,76.40 L384.80,77.02 L385.30,77.65 L385.80,78.29 L386.30,78.94 L386.80,79.60 L387.30,80.28 L387.80,80.98 L388.30,81.69 L388.80,82.42 L389.30,83.17 L389.80,83.94 L390.30,84.74 L390.80,85.57 L391.30,86.42 L391.80,87.31 L392.30,88.22 L392.80,89.18 L393.30,90.17 L393.80,91.19 L394.30,92.26 L394.80,93.37 L395.30,94.52 L395.80,95.72 L396.30,96.96 L396.80,98.25 L397.30,99.58 L397.80,100.95" fill="none" stroke="#edb125" stroke-width="1.5" stroke-linejoin="round" stroke-linecap="butt" clip-path="url(#c2)"/>
<path d="M276.30,42.20 L276.80,42.20 L277.30,42.20 L277.80,42.20 L278.30,42.20 L278.80,42.20 L279.30,42.20 L279.80,42.20 L280.30,42.20 L280.80,42.20 L281.30,42.20 L281.80,42.20 L282.30,42.20 L282.80,42.20 L283.30,42.20 L283.80,42.20 L284.30,42.20 L284.80,42.20 L285.30,42.20 L285.80,42.20 L286.30,42.20 L286.80,42.20 L287.30,42.20 L287.80,42.20 L288.30,42.20 L288.80,42.20 L289.30,42.20 L289.80,42.20 L290.30,42.20 L290.80,42.20 L291.30,42.20 L291.80,42.20 L292.30,42.20 L292.80,42.20 L293.30,42.20 L293.80,42.20 L294.30,42.20 L294.80,42.20 L295.30,42.20 L295.80,42.20 L296.30,42.20 L296.80,42.20 L297.30,42.20 L297.80,42.20 L298.30,42.20 L298.80,42.20 L299.30,42.20 L299.80,42.20 L300.30,42.20 L300.80,42.20 L301.30,42.20 L301.80,42.20 L302.30,42.20 L302.80,42.20 L303.30,42.20 L303.80,42.20 L304.30,42.20 L304.80,42.20 L305.30,42.20 L305.80,42.20 L306.30,42.20 L306.80,42.20 L307.30,42.20 L307.80,42.20 L308.30,42.20 L308.80,42.20 L309.30,42.20 L309.80,42.20 L310.30,42.20 L310.80,42.21 L311.30,42.21 L311.80,42.21 L312.30,42.21 L312.80,42.21 L313.30,42.21 L313.80,42.21 L314.30,42.21 L314.80,42.21 L315.30,42.21 L315.80,42.21 L316.30,42.21 L316.80,42.21 L317.30,42.21 L317.80,42.22 L318.30,42.22 L318.80,42.22 L319.30,42.22 L319.80,42.22 L320.30,42.22 L320.80,42.22 L321.30,42.23 L321.80,42.23 L322.30,42.23 L322.80,42.23 L323.30,42.24 L323.80,42.24 L324.30,42.24 L324.80,42.25 L325.30,42.25 L325.80,42.26 L326.30,42.26 L326.80,42.26 L327.30,42.27 L327.80,42.28 L328.30,42.28 L328.80,42.29 L329.30,42.30 L329.80,42.30 L330.30,42.31 L330.80,42.32 L331.30,42.33 L331.80,42.34 L332.30,42.36 L332.80,42.37 L333.30,42.38 L333.80,42.40 L334.30,42.41 L334.80,42.43 L335.30,42.45 L335.80,42.47 L336.30,42.49 L336.80,42.52 L337.30,42.54 L337.80,42.57 L338.30,42.60 L338.80,42.63 L339.30,42.67 L339.80,42.71 L340.30,42.75 L340.80,42.79 L341.30,42.84 L341.80,42.89 L342.30,42.94 L342.80,43.00 L343.30,43.06 L343.80,43.13 L344.30,43.20 L344.80,43.28 L345.30,43.36 L345.80,43.45 L346.30,43.55 L346.80,43.65 L347.30,43.76 L347.80,43.87 L348.30,43.99 L348.80,44.12 L349.30,44.26 L349.80,44.41 L350.30,44.57 L350.80,44.73 L351.30,44.90 L351.80,45.09 L352.30,45.28 L352.80,45.49 L353.30,45.70 L353.80,45.93 L354.30,46.16 L354.80,46.41 L355.30,46.66 L355.80,46.93 L356.30,47.21 L356.80,47.50 L357.30,47.80 L357.80,48.11 L358.30,48.44 L358.80,48.77 L359.30,49.11 L359.80,49.47 L360.30,49.83 L360.80,50.20 L361.30,50.59 L361.80,50.98 L362.30,51.38 L362.80,51.79 L363.30,52.20 L363.80,52.63 L364.30,53.06 L364.80,53.50 L365.30,53.94 L365.80,54.40 L366.30,54.85 L366.80,55.32 L367.30,55.79 L367.80,56.26 L368.30,56.74 L368.80,57.23 L369.30,57.72 L369.80,58.21 L370.30,58.71 L370.80,59.21 L371.30,59.71 L371.80,60.22 L372.30,60.72 L372.80,61.24 L373.30,61.75 L373.80,62.27 L374.30,62.79 L374.80,63.31 L375.30,63.84 L375.80,64.36 L376.30,64.89 L376.80,65.42 L377.30,65.95 L377.80,66.48 L378.30,67.02 L378.80,67.56 L379.30,68.09 L379.80,68.64 L380.30,69.18 L380.80,69.72 L381.30,70.27 L381.80,70.82 L382.30,71.38 L382.80,71.94 L383.30,72.50 L383.80,73.07 L384.30,73.65 L384.80,74.23 L385.30,74.82 L385.80,75.42 L386.30,76.03 L386.80,76.65 L387.30,77.29 L387.80,77.95 L388.30,78.62 L388.80,79.31 L389.30,80.02 L389.80,80.75 L390.30,81.51 L390.80,82.29 L391.30,83.08 L391.80,83.90 L392.30,84.74 L392.80,85.60 L393.30,86.47 L393.80,87.36 L394.30,88.26 L394.80,89.17 L395.30,90.10 L395.80,91.03 L396.30,91.97 L396.80,92.92 L397.30,93.88 L397.80,94.83 L398.30,95.80 L398.80,96.76 L399.30,97.73 L399.80,98.70 L400.30,99.67 L400.80,100.64" fill="none" stroke="#7a10d2" stroke-width="1.5" stroke-linejoin="round" stroke-linecap="butt" clip-path="url(#c2)"/>
<path d="M276.30,42.20 L276.80,42.20 L277.30,42.20 L277.80,42.20 L278.30,42.20 L278.80,42.20 L279.30,42.20 L279.80,42.20 L280.30,42.20 L280.80,42.20 L281.30,42.20 L281.80,42.20 L282.30,42.20 L282.80,42.20 L283.30,42.20 L283.80,42.20 L284.30,42.20 L284.80,42.20 L285.30,42.20 L285.80,42.20 L286.30,42.20 L286.80,42.20 L287.30,42.20 L287.80,42.20 L288.30,42.20 L288.80,42.20 L289.30,42.20 L289.80,42.20 L290.30,42.20 L290.80,42.20 L291.30,42.20 L291.80,42.20 L292.30,42.20 L292.80,42.20 L293.30,42.20 L293.80,42.20 L294.30,42.20 L294.80,42.20 L295.30,42.20 L295.80,42.20 L296.30,42.20 L296.80,42.20 L297.30,42.20 L297.80,42.20 L298.30,42.20 L298.80,42.20 L299.30,42.20 L299.80,42.20 L300.30,42.20 L300.80,42.20 L301.30,42.20 L301.80,42.20 L302.30,42.20 L302.80,42.20 L303.30,42.20 L303.80,42.20 L304.30,42.20 L304.80,42.20 L305.30,42.20 L305.80,42.20 L306.30,42.20 L306.80,42.20 L307.30,42.20 L307.80,42.20 L308.30,42.20 L308.80,42.20 L309.30,42.20 L309.80,42.20 L310.30,42.20 L310.80,42.20 L311.30,42.20 L311.80,42.20 L312.30,42.20 L312.80,42.20 L313.30,42.20 L313.80,42.20 L314.30,42.20 L314.80,42.20 L315.30,42.20 L315.80,42.20 L316.30,42.20 L316.80,42.20 L317.30,42.20 L317.80,42.20 L318.30,42.20 L318.80,42.20 L319.30,42.20 L319.80,42.20 L320.30,42.20 L320.80,42.20 L321.30,42.20 L321.80,42.20 L322.30,42.20 L322.80,42.20 L323.30,42.20 L323.80,42.20 L324.30,42.20 L324.80,42.20 L325.30,42.21 L325.80,42.21 L326.30,42.21 L326.80,42.21 L327.30,42.21 L327.80,42.21 L328.30,42.22 L328.80,42.22 L329.30,42.23 L329.80,42.23 L330.30,42.24 L330.80,42.25 L331.30,42.25 L331.80,42.27 L332.30,42.28 L332.80,42.29 L333.30,42.31 L333.80,42.33 L334.30,42.36 L334.80,42.39 L335.30,42.42 L335.80,42.46 L336.30,42.50 L336.80,42.54 L337.30,42.59 L337.80,42.64 L338.30,42.70 L338.80,42.76 L339.30,42.83 L339.80,42.90 L340.30,42.97 L340.80,43.04 L341.30,43.12 L341.80,43.20 L342.30,43.28 L342.80,43.37 L343.30,43.45 L343.80,43.54 L344.30,43.64 L344.80,43.73 L345.30,43.84 L345.80,43.94 L346.30,44.05 L346.80,44.17 L347.30,44.30 L347.80,44.43 L348.30,44.57 L348.80,44.73 L349.30,44.90 L349.80,45.08 L350.30,45.28 L350.80,45.50 L351.30,45.74 L351.80,46.00 L352.30,46.29 L352.80,46.59 L353.30,46.92 L353.80,47.27 L354.30,47.65 L354.80,48.04 L355.30,48.46 L355.80,48.89 L356.30,49.34 L356.80,49.81 L357.30,50.28 L357.80,50.77 L358.30,51.27 L358.80,51.78 L359.30,52.29 L359.80,52.81 L360.30,53.33 L360.80,53.86 L361.30,54.39 L361.80,54.93 L362.30,55.46 L362.80,56.00 L363.30,56.54 L363.80,57.08 L364.30,57.63 L364.80,58.17 L365.30,58.72 L365.80,59.26 L366.30,59.81 L366.80,60.35 L367.30,60.90 L367.80,61.44 L368.30,61.99 L368.80,62.54 L369.30,63.09 L369.80,63.63 L370.30,64.18 L370.80,64.73 L371.30,65.27 L371.80,65.82 L372.30,66.37 L372.80,66.92 L373.30,67.47 L373.80,68.01 L374.30,68.56 L374.80,69.11 L375.30,69.66 L375.80,70.20 L376.30,70.75 L376.80,71.30 L377.30,71.85 L377.80,72.39 L378.30,72.94 L378.80,73.49 L379.30,74.04 L379.80,74.59 L380.30,75.13 L380.80,75.68 L381.30,76.23 L381.80,76.78 L382.30,77.32 L382.80,77.87 L383.30,78.42 L383.80,78.97 L384.30,79.52 L384.80,80.06 L385.30,80.61 L385.80,81.16 L386.30,81.71 L386.80,82.25 L387.30,82.80 L387.80,83.35 L388.30,83.90 L388.80,84.45 L389.30,84.99 L389.80,85.54 L390.30,86.09 L390.80,86.64 L391.30,87.18 L391.80,87.73 L392.30,88.28 L392.80,88.83 L393.30,89.38 L393.80,89.92 L394.30,90.47 L394.80,91.02 L395.30,91.57 L395.80,92.12 L396.30,92.66 L396.80,93.21 L397.30,93.76 L397.80,94.31 L398.30,94.85 L398.80,95.40 L399.30,95.95 L399.80,96.50 L400.30,97.05 L400.80,97.59 L401.30,98.14 L401.80,98.69 L402.30,99.24 L402.80,99.78 L403.30,100.33 L403.80,100.88" fill="none" stroke="#38a838" stroke-width="1.6" stroke-linejoin="round" stroke-linecap="butt" clip-path="url(#c2)"/>
<line x1="297.51" y1="98.5" x2="297.51" y2="96.6" stroke="#8a8a8a" stroke-width="0.8"/>
<line x1="297.51" y1="31.0" x2="297.51" y2="32.9" stroke="#8a8a8a" stroke-width="0.8"/>
<line x1="318.72" y1="98.5" x2="318.72" y2="96.6" stroke="#8a8a8a" stroke-width="0.8"/>
<line x1="318.72" y1="31.0" x2="318.72" y2="32.9" stroke="#8a8a8a" stroke-width="0.8"/>
<line x1="339.93" y1="98.5" x2="339.93" y2="96.6" stroke="#8a8a8a" stroke-width="0.8"/>
<line x1="339.93" y1="31.0" x2="339.93" y2="32.9" stroke="#8a8a8a" stroke-width="0.8"/>
<line x1="361.14" y1="98.5" x2="361.14" y2="96.6" stroke="#8a8a8a" stroke-width="0.8"/>
<line x1="361.14" y1="31.0" x2="361.14" y2="32.9" stroke="#8a8a8a" stroke-width="0.8"/>
<line x1="382.35" y1="98.5" x2="382.35" y2="96.6" stroke="#8a8a8a" stroke-width="0.8"/>
<line x1="382.35" y1="31.0" x2="382.35" y2="32.9" stroke="#8a8a8a" stroke-width="0.8"/>
<line x1="403.56" y1="98.5" x2="403.56" y2="96.6" stroke="#8a8a8a" stroke-width="0.8"/>
<line x1="403.56" y1="31.0" x2="403.56" y2="32.9" stroke="#8a8a8a" stroke-width="0.8"/>
<line x1="424.77" y1="98.5" x2="424.77" y2="96.6" stroke="#8a8a8a" stroke-width="0.8"/>
<line x1="424.77" y1="31.0" x2="424.77" y2="32.9" stroke="#8a8a8a" stroke-width="0.8"/>
<line x1="276.5" y1="70.35" x2="278.4" y2="70.35" stroke="#8a8a8a" stroke-width="0.8"/>
<line x1="446.0" y1="70.35" x2="444.1" y2="70.35" stroke="#8a8a8a" stroke-width="0.8"/>
<line x1="276.5" y1="42.2" x2="278.4" y2="42.2" stroke="#8a8a8a" stroke-width="0.8"/>
<line x1="446.0" y1="42.2" x2="444.1" y2="42.2" stroke="#8a8a8a" stroke-width="0.8"/>
<text x="272.8" y="46.2" font-size="10" text-anchor="end" font-weight="normal" fill="#2a2a2a">0</text>
<text x="272.8" y="74.35" font-size="10" text-anchor="end" font-weight="normal" fill="#2a2a2a">-50</text>
<text x="272.8" y="102.5" font-size="10" text-anchor="end" font-weight="normal" fill="#2a2a2a">-100</text>
<text x="337.93" y="112.6" font-size="10" text-anchor="middle" fill="#2a2a2a">10</text>
<text x="343.53" y="108.39999999999999" font-size="8" text-anchor="start" fill="#2a2a2a">0</text>
<text x="443.98" y="112.6" font-size="10" text-anchor="middle" fill="#2a2a2a">10</text>
<text x="449.58" y="108.39999999999999" font-size="8" text-anchor="start" fill="#2a2a2a">5</text>
<text x="361.3" y="128.5" font-size="11" text-anchor="middle" font-weight="normal" fill="#262626">Frequency (rad/s)</text>
<text x="0" y="0" font-size="11" text-anchor="middle" fill="#262626" transform="translate(247.8,64.3) rotate(-90)">Magnitude (dB)</text>
<text x="361.0" y="12.4" font-size="11" text-anchor="middle" font-weight="bold" fill="#1a1a1a">Complementary Sensitivity (Magnitude)</text>
<path d="M318.30,231.99 L318.80,231.44 L319.30,230.90 L319.80,230.35 L320.30,229.80 L320.80,229.25 L321.30,228.71 L321.80,228.16 L322.30,227.61 L322.80,227.06 L323.30,226.51 L323.80,225.97 L324.30,225.42 L324.80,224.87 L325.30,224.32 L325.80,223.78 L326.30,223.23 L326.80,222.68 L327.30,222.13 L327.80,221.58 L328.30,221.04 L328.80,220.49 L329.30,219.94 L329.80,219.39 L330.30,218.85 L330.80,218.30 L331.30,217.75 L331.80,217.20 L332.30,216.65 L332.80,216.11 L333.30,215.56 L333.80,215.01 L334.30,214.46 L334.80,213.92 L335.30,213.37 L335.80,212.82 L336.30,212.27 L336.80,211.72 L337.30,211.18 L337.80,210.63 L338.30,210.08 L338.80,209.53 L339.30,208.99 L339.80,208.44 L340.30,207.89 L340.80,207.34 L341.30,206.80 L341.80,206.25 L342.30,205.70 L342.80,205.15 L343.30,204.60 L343.80,204.06 L344.30,203.51 L344.80,202.96 L345.30,202.41 L345.80,201.87 L346.30,201.32 L346.80,200.77 L347.30,200.22 L347.80,199.67 L348.30,199.13 L348.80,198.58 L349.30,198.03 L349.80,197.48 L350.30,196.94 L350.80,196.39 L351.30,195.84 L351.80,195.29 L352.30,194.74 L352.80,194.20 L353.30,193.65 L353.80,193.10 L354.30,192.55 L354.80,192.01 L355.30,191.46 L355.80,190.91 L356.30,190.36 L356.80,189.81 L357.30,189.27 L357.80,188.72 L358.30,188.17 L358.80,187.62 L359.30,187.08 L359.80,186.53 L360.30,185.98 L360.80,185.43 L361.30,184.88 L361.80,184.34 L362.30,183.79 L362.80,183.24 L363.30,182.69 L363.80,182.15 L364.30,181.60 L364.80,181.05 L365.30,180.50 L365.80,179.96 L366.30,179.41 L366.80,178.86 L367.30,178.31 L367.80,177.77 L368.30,177.22 L368.80,176.68 L369.30,176.14 L369.80,175.61 L370.30,175.09 L370.80,174.59 L371.30,174.12 L371.80,173.69 L372.30,173.32 L372.80,173.00 L373.30,172.72 L373.80,172.45 L374.30,172.18 L374.80,171.91 L375.30,171.65 L375.80,171.45 L376.30,171.33 L376.80,171.31 L377.30,171.40 L377.80,171.57 L378.30,171.80 L378.80,172.05 L379.30,172.27 L379.80,172.45 L380.30,172.59 L380.80,172.68 L381.30,172.74 L381.80,172.77 L382.30,172.79 L382.80,172.79 L383.30,172.80 L383.80,172.80 L384.30,172.80 L384.80,172.80 L385.30,172.80 L385.80,172.80 L386.30,172.80 L386.80,172.80 L387.30,172.80 L387.80,172.80 L388.30,172.80 L388.80,172.80 L389.30,172.80 L389.80,172.80 L390.30,172.80 L390.80,172.80 L391.30,172.80 L391.80,172.80 L392.30,172.80 L392.80,172.80 L393.30,172.80 L393.80,172.80 L394.30,172.80 L394.80,172.80 L395.30,172.80 L395.80,172.80 L396.30,172.80 L396.80,172.80 L397.30,172.80 L397.80,172.80 L398.30,172.80 L398.80,172.80 L399.30,172.80 L399.80,172.80 L400.30,172.80 L400.80,172.80 L401.30,172.80 L401.80,172.80 L402.30,172.80 L402.80,172.80 L403.30,172.80 L403.80,172.80 L404.30,172.80 L404.80,172.80 L405.30,172.80 L405.80,172.80 L406.30,172.80 L406.80,172.80 L407.30,172.80 L407.80,172.80 L408.30,172.80 L408.80,172.80 L409.30,172.80 L409.80,172.80 L410.30,172.80 L410.80,172.80 L411.30,172.80 L411.80,172.80 L412.30,172.80 L412.80,172.80 L413.30,172.80 L413.80,172.80 L414.30,172.80 L414.80,172.80 L415.30,172.80 L415.80,172.80 L416.30,172.80 L416.80,172.80 L417.30,172.80 L417.80,172.80 L418.30,172.80 L418.80,172.80 L419.30,172.80 L419.80,172.80 L420.30,172.80 L420.80,172.80 L421.30,172.80 L421.80,172.80 L422.30,172.80 L422.80,172.80 L423.30,172.80 L423.80,172.80 L424.30,172.80 L424.80,172.80 L425.30,172.80 L425.80,172.80 L426.30,172.80 L426.80,172.80 L427.30,172.80 L427.80,172.80 L428.30,172.80 L428.80,172.80 L429.30,172.80 L429.80,172.80 L430.30,172.80 L430.80,172.80 L431.30,172.80 L431.80,172.80 L432.30,172.80 L432.80,172.80 L433.30,172.80 L433.80,172.80 L434.30,172.80 L434.80,172.80 L435.30,172.80 L435.80,172.80 L436.30,172.80 L436.80,172.80 L437.30,172.80 L437.80,172.80 L438.30,172.80 L438.80,172.80 L439.30,172.80 L439.80,172.80 L440.30,172.80 L440.80,172.80 L441.30,172.80 L441.80,172.80 L442.30,172.80 L442.80,172.80 L443.30,172.80 L443.80,172.80 L444.30,172.80 L444.80,172.80 L445.30,172.80 L445.80,172.80" fill="none" stroke="#1f78c8" stroke-width="1.5" stroke-linejoin="round" stroke-linecap="butt" clip-path="url(#c3)"/>
<path d="M309.30,231.70 L309.80,231.18 L310.30,230.66 L310.80,230.13 L311.30,229.61 L311.80,229.09 L312.30,228.57 L312.80,228.05 L313.30,227.54 L313.80,227.02 L314.30,226.50 L314.80,225.98 L315.30,225.47 L315.80,224.95 L316.30,224.44 L316.80,223.92 L317.30,223.40 L317.80,222.89 L318.30,222.37 L318.80,221.85 L319.30,221.33 L319.80,220.81 L320.30,220.29 L320.80,219.76 L321.30,219.24 L321.80,218.72 L322.30,218.19 L322.80,217.67 L323.30,217.14 L323.80,216.62 L324.30,216.09 L324.80,215.56 L325.30,215.04 L325.80,214.51 L326.30,213.98 L326.80,213.46 L327.30,212.93 L327.80,212.40 L328.30,211.88 L328.80,211.35 L329.30,210.83 L329.80,210.30 L330.30,209.78 L330.80,209.25 L331.30,208.73 L331.80,208.20 L332.30,207.68 L332.80,207.15 L333.30,206.63 L333.80,206.11 L334.30,205.58 L334.80,205.06 L335.30,204.53 L335.80,204.01 L336.30,203.49 L336.80,202.97 L337.30,202.46 L337.80,201.94 L338.30,201.42 L338.80,200.90 L339.30,200.37 L339.80,199.82 L340.30,199.26 L340.80,198.67 L341.30,198.06 L341.80,197.45 L342.30,196.83 L342.80,196.21 L343.30,195.61 L343.80,195.03 L344.30,194.47 L344.80,193.91 L345.30,193.36 L345.80,192.82 L346.30,192.28 L346.80,191.76 L347.30,191.24 L347.80,190.73 L348.30,190.24 L348.80,189.76 L349.30,189.30 L349.80,188.84 L350.30,188.38 L350.80,187.93 L351.30,187.48 L351.80,187.04 L352.30,186.62 L352.80,186.21 L353.30,185.84 L353.80,185.49 L354.30,185.17 L354.80,184.89 L355.30,184.63 L355.80,184.38 L356.30,184.14 L356.80,183.92 L357.30,183.71 L357.80,183.51 L358.30,183.32 L358.80,183.15 L359.30,182.98 L359.80,182.83 L360.30,182.69 L360.80,182.55 L361.30,182.42 L361.80,182.30 L362.30,182.19 L362.80,182.08 L363.30,181.98 L363.80,181.87 L364.30,181.78 L364.80,181.68 L365.30,181.58 L365.80,181.49 L366.30,181.40 L366.80,181.32 L367.30,181.24 L367.80,181.16 L368.30,181.08 L368.80,181.00 L369.30,180.92 L369.80,180.83 L370.30,180.74 L370.80,180.64 L371.30,180.54 L371.80,180.45 L372.30,180.34 L372.80,180.24 L373.30,180.13 L373.80,180.02 L374.30,179.90 L374.80,179.78 L375.30,179.64 L375.80,179.50 L376.30,179.34 L376.80,179.16 L377.30,178.97 L377.80,178.76 L378.30,178.54 L378.80,178.32 L379.30,178.09 L379.80,177.86 L380.30,177.64 L380.80,177.42 L381.30,177.22 L381.80,177.01 L382.30,176.81 L382.80,176.60 L383.30,176.40 L383.80,176.20 L384.30,176.00 L384.80,175.80 L385.30,175.61 L385.80,175.42 L386.30,175.24 L386.80,175.06 L387.30,174.87 L387.80,174.69 L388.30,174.51 L388.80,174.33 L389.30,174.15 L389.80,173.99 L390.30,173.84 L390.80,173.70 L391.30,173.58 L391.80,173.48 L392.30,173.39 L392.80,173.29 L393.30,173.20 L393.80,173.11 L394.30,173.03 L394.80,172.96 L395.30,172.90 L395.80,172.85 L396.30,172.82 L396.80,172.80 L397.30,172.80 L397.80,172.80 L398.30,172.80 L398.80,172.80 L399.30,172.80 L399.80,172.80 L400.30,172.80 L400.80,172.80 L401.30,172.80 L401.80,172.80 L402.30,172.80 L402.80,172.80 L403.30,172.80 L403.80,172.80 L404.30,172.80 L404.80,172.80 L405.30,172.80 L405.80,172.80 L406.30,172.80 L406.80,172.80 L407.30,172.80 L407.80,172.80 L408.30,172.80 L408.80,172.80 L409.30,172.80 L409.80,172.80 L410.30,172.80 L410.80,172.80 L411.30,172.80 L411.80,172.80 L412.30,172.80 L412.80,172.80 L413.30,172.80 L413.80,172.80 L414.30,172.80 L414.80,172.80 L415.30,172.80 L415.80,172.80 L416.30,172.80 L416.80,172.80 L417.30,172.80 L417.80,172.80 L418.30,172.80 L418.80,172.80 L419.30,172.80 L419.80,172.80 L420.30,172.80 L420.80,172.80 L421.30,172.80 L421.80,172.80 L422.30,172.80 L422.80,172.80 L423.30,172.80 L423.80,172.80 L424.30,172.80 L424.80,172.80 L425.30,172.80 L425.80,172.80 L426.30,172.80 L426.80,172.80 L427.30,172.80 L427.80,172.80 L428.30,172.80 L428.80,172.80 L429.30,172.80 L429.80,172.80 L430.30,172.80 L430.80,172.80 L431.30,172.80 L431.80,172.80 L432.30,172.80 L432.80,172.80 L433.30,172.80 L433.80,172.80 L434.30,172.80 L434.80,172.80 L435.30,172.80 L435.80,172.80 L436.30,172.80 L436.80,172.80 L437.30,172.80 L437.80,172.80 L438.30,172.80 L438.80,172.80 L439.30,172.80 L439.80,172.80 L440.30,172.80 L440.80,172.80 L441.30,172.80 L441.80,172.80 L442.30,172.80 L442.80,172.80 L443.30,172.80 L443.80,172.80 L444.30,172.80 L444.80,172.80 L445.30,172.80 L445.80,172.80" fill="none" stroke="#dd5d20" stroke-width="1.5" stroke-linejoin="round" stroke-linecap="butt" clip-path="url(#c3)"/>
<path d="M276.30,220.49 L276.80,220.22 L277.30,219.96 L277.80,219.69 L278.30,219.43 L278.80,219.16 L279.30,218.90 L279.80,218.63 L280.30,218.36 L280.80,218.10 L281.30,217.83 L281.80,217.57 L282.30,217.30 L282.80,217.03 L283.30,216.77 L283.80,216.50 L284.30,216.24 L284.80,215.97 L285.30,215.71 L285.80,215.44 L286.30,215.17 L286.80,214.91 L287.30,214.64 L287.80,214.38 L288.30,214.11 L288.80,213.84 L289.30,213.58 L289.80,213.31 L290.30,213.05 L290.80,212.78 L291.30,212.52 L291.80,212.25 L292.30,211.98 L292.80,211.72 L293.30,211.45 L293.80,211.19 L294.30,210.92 L294.80,210.65 L295.30,210.39 L295.80,210.12 L296.30,209.86 L296.80,209.59 L297.30,209.33 L297.80,209.06 L298.30,208.79 L298.80,208.53 L299.30,208.26 L299.80,208.00 L300.30,207.73 L300.80,207.46 L301.30,207.20 L301.80,206.93 L302.30,206.67 L302.80,206.40 L303.30,206.14 L303.80,205.87 L304.30,205.60 L304.80,205.34 L305.30,205.07 L305.80,204.81 L306.30,204.54 L306.80,204.27 L307.30,204.01 L307.80,203.74 L308.30,203.48 L308.80,203.21 L309.30,202.95 L309.80,202.68 L310.30,202.41 L310.80,202.15 L311.30,201.88 L311.80,201.62 L312.30,201.35 L312.80,201.08 L313.30,200.82 L313.80,200.55 L314.30,200.29 L314.80,200.02 L315.30,199.76 L315.80,199.49 L316.30,199.22 L316.80,198.96 L317.30,198.69 L317.80,198.43 L318.30,198.16 L318.80,197.89 L319.30,197.63 L319.80,197.36 L320.30,197.10 L320.80,196.83 L321.30,196.57 L321.80,196.30 L322.30,196.03 L322.80,195.77 L323.30,195.50 L323.80,195.24 L324.30,194.97 L324.80,194.70 L325.30,194.44 L325.80,194.17 L326.30,193.91 L326.80,193.64 L327.30,193.38 L327.80,193.11 L328.30,192.84 L328.80,192.58 L329.30,192.31 L329.80,192.05 L330.30,191.78 L330.80,191.52 L331.30,191.25 L331.80,190.98 L332.30,190.72 L332.80,190.45 L333.30,190.19 L333.80,189.92 L334.30,189.65 L334.80,189.39 L335.30,189.12 L335.80,188.86 L336.30,188.59 L336.80,188.33 L337.30,188.06 L337.80,187.79 L338.30,187.53 L338.80,187.26 L339.30,187.00 L339.80,186.73 L340.30,186.46 L340.80,186.20 L341.30,185.93 L341.80,185.67 L342.30,185.40 L342.80,185.14 L343.30,184.87 L343.80,184.60 L344.30,184.34 L344.80,184.07 L345.30,183.81 L345.80,183.54 L346.30,183.28 L346.80,183.01 L347.30,182.75 L347.80,182.48 L348.30,182.22 L348.80,181.95 L349.30,181.69 L349.80,181.42 L350.30,181.16 L350.80,180.89 L351.30,180.63 L351.80,180.36 L352.30,180.11 L352.80,179.87 L353.30,179.63 L353.80,179.39 L354.30,179.16 L354.80,178.92 L355.30,178.68 L355.80,178.44 L356.30,178.21 L356.80,177.97 L357.30,177.74 L357.80,177.51 L358.30,177.28 L358.80,177.05 L359.30,176.83 L359.80,176.60 L360.30,176.38 L360.80,176.17 L361.30,175.96 L361.80,175.75 L362.30,175.55 L362.80,175.35 L363.30,175.16 L363.80,174.98 L364.30,174.80 L364.80,174.63 L365.30,174.47 L365.80,174.32 L366.30,174.18 L366.80,174.04 L367.30,173.92 L367.80,173.81 L368.30,173.70 L368.80,173.61 L369.30,173.53 L369.80,173.45 L370.30,173.39 L370.80,173.33 L371.30,173.28 L371.80,173.24 L372.30,173.19 L372.80,173.14 L373.30,173.10 L373.80,173.06 L374.30,173.03 L374.80,173.00 L375.30,172.97 L375.80,172.95 L376.30,172.93 L376.80,172.91 L377.30,172.89 L377.80,172.88 L378.30,172.87 L378.80,172.86 L379.30,172.85 L379.80,172.85 L380.30,172.84 L380.80,172.83 L381.30,172.83 L381.80,172.82 L382.30,172.82 L382.80,172.82 L383.30,172.82 L383.80,172.81 L384.30,172.81 L384.80,172.81 L385.30,172.81 L385.80,172.81 L386.30,172.81 L386.80,172.81 L387.30,172.80 L387.80,172.80 L388.30,172.80 L388.80,172.80 L389.30,172.80 L389.80,172.80 L390.30,172.80 L390.80,172.80 L391.30,172.80 L391.80,172.80 L392.30,172.80 L392.80,172.80 L393.30,172.80 L393.80,172.80 L394.30,172.80 L394.80,172.80 L395.30,172.80 L395.80,172.80 L396.30,172.80 L396.80,172.80 L397.30,172.80 L397.80,172.80 L398.30,172.80 L398.80,172.80 L399.30,172.80 L399.80,172.80 L400.30,172.80 L400.80,172.80 L401.30,172.80 L401.80,172.80 L402.30,172.80 L402.80,172.80 L403.30,172.80 L403.80,172.80 L404.30,172.80 L404.80,172.80 L405.30,172.80 L405.80,172.80 L406.30,172.80 L406.80,172.80 L407.30,172.80 L407.80,172.80 L408.30,172.80 L408.80,172.80 L409.30,172.80 L409.80,172.80 L410.30,172.80 L410.80,172.80 L411.30,172.80 L411.80,172.80 L412.30,172.80 L412.80,172.80 L413.30,172.80 L413.80,172.80 L414.30,172.80 L414.80,172.80 L415.30,172.80 L415.80,172.80 L416.30,172.80 L416.80,172.80 L417.30,172.80 L417.80,172.80 L418.30,172.80 L418.80,172.80 L419.30,172.80 L419.80,172.80 L420.30,172.80 L420.80,172.80 L421.30,172.80 L421.80,172.80 L422.30,172.80 L422.80,172.80 L423.30,172.80 L423.80,172.80 L424.30,172.80 L424.80,172.80 L425.30,172.80 L425.80,172.80 L426.30,172.80 L426.80,172.80 L427.30,172.80 L427.80,172.80 L428.30,172.80 L428.80,172.80 L429.30,172.80 L429.80,172.80 L430.30,172.80 L430.80,172.80 L431.30,172.80 L431.80,172.80 L432.30,172.80 L432.80,172.80 L433.30,172.80 L433.80,172.80 L434.30,172.80 L434.80,172.80 L435.30,172.80 L435.80,172.80 L436.30,172.80 L436.80,172.80 L437.30,172.80 L437.80,172.80 L438.30,172.80 L438.80,172.80 L439.30,172.80 L439.80,172.80 L440.30,172.80 L440.80,172.80 L441.30,172.80 L441.80,172.80 L442.30,172.80 L442.80,172.80 L443.30,172.80 L443.80,172.80 L444.30,172.80 L444.80,172.80 L445.30,172.80 L445.80,172.80" fill="none" stroke="#edb125" stroke-width="1.5" stroke-linejoin="round" stroke-linecap="butt" clip-path="url(#c3)"/>
<path d="M276.30,221.39 L276.80,221.12 L277.30,220.86 L277.80,220.59 L278.30,220.33 L278.80,220.06 L279.30,219.80 L279.80,219.53 L280.30,219.26 L280.80,219.00 L281.30,218.73 L281.80,218.47 L282.30,218.20 L282.80,217.93 L283.30,217.67 L283.80,217.40 L284.30,217.14 L284.80,216.87 L285.30,216.61 L285.80,216.34 L286.30,216.07 L286.80,215.81 L287.30,215.54 L287.80,215.28 L288.30,215.01 L288.80,214.74 L289.30,214.48 L289.80,214.21 L290.30,213.95 L290.80,213.68 L291.30,213.42 L291.80,213.15 L292.30,212.88 L292.80,212.62 L293.30,212.35 L293.80,212.09 L294.30,211.82 L294.80,211.55 L295.30,211.29 L295.80,211.02 L296.30,210.76 L296.80,210.49 L297.30,210.23 L297.80,209.96 L298.30,209.69 L298.80,209.43 L299.30,209.16 L299.80,208.90 L300.30,208.63 L300.80,208.36 L301.30,208.10 L301.80,207.83 L302.30,207.57 L302.80,207.30 L303.30,207.04 L303.80,206.77 L304.30,206.50 L304.80,206.24 L305.30,205.97 L305.80,205.71 L306.30,205.44 L306.80,205.17 L307.30,204.91 L307.80,204.64 L308.30,204.38 L308.80,204.11 L309.30,203.85 L309.80,203.58 L310.30,203.31 L310.80,203.05 L311.30,202.78 L311.80,202.52 L312.30,202.25 L312.80,201.98 L313.30,201.72 L313.80,201.45 L314.30,201.19 L314.80,200.92 L315.30,200.66 L315.80,200.39 L316.30,200.12 L316.80,199.86 L317.30,199.59 L317.80,199.33 L318.30,199.06 L318.80,198.79 L319.30,198.53 L319.80,198.26 L320.30,198.00 L320.80,197.73 L321.30,197.47 L321.80,197.20 L322.30,196.93 L322.80,196.67 L323.30,196.40 L323.80,196.14 L324.30,195.87 L324.80,195.60 L325.30,195.34 L325.80,195.07 L326.30,194.81 L326.80,194.54 L327.30,194.28 L327.80,194.01 L328.30,193.74 L328.80,193.48 L329.30,193.21 L329.80,192.95 L330.30,192.68 L330.80,192.42 L331.30,192.15 L331.80,191.88 L332.30,191.62 L332.80,191.35 L333.30,191.09 L333.80,190.82 L334.30,190.55 L334.80,190.29 L335.30,190.02 L335.80,189.76 L336.30,189.49 L336.80,189.23 L337.30,188.96 L337.80,188.69 L338.30,188.43 L338.80,188.16 L339.30,187.90 L339.80,187.63 L340.30,187.36 L340.80,187.10 L341.30,186.83 L341.80,186.57 L342.30,186.30 L342.80,186.04 L343.30,185.77 L343.80,185.50 L344.30,185.24 L344.80,184.97 L345.30,184.71 L345.80,184.44 L346.30,184.18 L346.80,183.91 L347.30,183.65 L347.80,183.38 L348.30,183.12 L348.80,182.85 L349.30,182.59 L349.80,182.32 L350.30,182.06 L350.80,181.79 L351.30,181.53 L351.80,181.26 L352.30,181.00 L352.80,180.74 L353.30,180.48 L353.80,180.21 L354.30,179.95 L354.80,179.69 L355.30,179.43 L355.80,179.17 L356.30,178.91 L356.80,178.66 L357.30,178.40 L357.80,178.15 L358.30,177.90 L358.80,177.65 L359.30,177.40 L359.80,177.15 L360.30,176.91 L360.80,176.67 L361.30,176.44 L361.80,176.21 L362.30,175.98 L362.80,175.77 L363.30,175.55 L363.80,175.35 L364.30,175.15 L364.80,174.95 L365.30,174.77 L365.80,174.60 L366.30,174.43 L366.80,174.28 L367.30,174.13 L367.80,173.99 L368.30,173.87 L368.80,173.75 L369.30,173.65 L369.80,173.55 L370.30,173.46 L370.80,173.38 L371.30,173.31 L371.80,173.25 L372.30,173.19 L372.80,173.14 L373.30,173.10 L373.80,173.06 L374.30,173.03 L374.80,173.00 L375.30,172.97 L375.80,172.95 L376.30,172.93 L376.80,172.91 L377.30,172.89 L377.80,172.88 L378.30,172.87 L378.80,172.86 L379.30,172.85 L379.80,172.85 L380.30,172.84 L380.80,172.83 L381.30,172.83 L381.80,172.82 L382.30,172.82 L382.80,172.82 L383.30,172.82 L383.80,172.81 L384.30,172.81 L384.80,172.81 L385.30,172.81 L385.80,172.81 L386.30,172.81 L386.80,172.81 L387.30,172.80 L387.80,172.80 L388.30,172.80 L388.80,172.80 L389.30,172.80 L389.80,172.80 L390.30,172.80 L390.80,172.80 L391.30,172.80 L391.80,172.80 L392.30,172.80 L392.80,172.80 L393.30,172.80 L393.80,172.80 L394.30,172.80 L394.80,172.80 L395.30,172.80 L395.80,172.80 L396.30,172.80 L396.80,172.80 L397.30,172.80 L397.80,172.80 L398.30,172.80 L398.80,172.80 L399.30,172.80 L399.80,172.80 L400.30,172.80 L400.80,172.80 L401.30,172.80 L401.80,172.80 L402.30,172.80 L402.80,172.80 L403.30,172.80 L403.80,172.80 L404.30,172.80 L404.80,172.80 L405.30,172.80 L405.80,172.80 L406.30,172.80 L406.80,172.80 L407.30,172.80 L407.80,172.80 L408.30,172.80 L408.80,172.80 L409.30,172.80 L409.80,172.80 L410.30,172.80 L410.80,172.80 L411.30,172.80 L411.80,172.80 L412.30,172.80 L412.80,172.80 L413.30,172.80 L413.80,172.80 L414.30,172.80 L414.80,172.80 L415.30,172.80 L415.80,172.80 L416.30,172.80 L416.80,172.80 L417.30,172.80 L417.80,172.80 L418.30,172.80 L418.80,172.80 L419.30,172.80 L419.80,172.80 L420.30,172.80 L420.80,172.80 L421.30,172.80 L421.80,172.80 L422.30,172.80 L422.80,172.80 L423.30,172.80 L423.80,172.80 L424.30,172.80 L424.80,172.80 L425.30,172.80 L425.80,172.80 L426.30,172.80 L426.80,172.80 L427.30,172.80 L427.80,172.80 L428.30,172.80 L428.80,172.80 L429.30,172.80 L429.80,172.80 L430.30,172.80 L430.80,172.80 L431.30,172.80 L431.80,172.80 L432.30,172.80 L432.80,172.80 L433.30,172.80 L433.80,172.80 L434.30,172.80 L434.80,172.80 L435.30,172.80 L435.80,172.80 L436.30,172.80 L436.80,172.80 L437.30,172.80 L437.80,172.80 L438.30,172.80 L438.80,172.80 L439.30,172.80 L439.80,172.80 L440.30,172.80 L440.80,172.80 L441.30,172.80 L441.80,172.80 L442.30,172.80 L442.80,172.80 L443.30,172.80 L443.80,172.80 L444.30,172.80 L444.80,172.80 L445.30,172.80 L445.80,172.80" fill="none" stroke="#7a10d2" stroke-width="1.5" stroke-linejoin="round" stroke-linecap="butt" clip-path="url(#c3)"/>
<path d="M280.80,231.89 L281.30,231.35 L281.80,230.81 L282.30,230.27 L282.80,229.73 L283.30,229.19 L283.80,228.65 L284.30,228.10 L284.80,227.56 L285.30,227.02 L285.80,226.48 L286.30,225.94 L286.80,225.40 L287.30,224.86 L287.80,224.32 L288.30,223.78 L288.80,223.24 L289.30,222.70 L289.80,222.15 L290.30,221.61 L290.80,221.07 L291.30,220.53 L291.80,219.99 L292.30,219.45 L292.80,218.92 L293.30,218.38 L293.80,217.84 L294.30,217.30 L294.80,216.76 L295.30,216.23 L295.80,215.69 L296.30,215.16 L296.80,214.62 L297.30,214.09 L297.80,213.56 L298.30,213.03 L298.80,212.50 L299.30,211.98 L299.80,211.45 L300.30,210.93 L300.80,210.42 L301.30,209.91 L301.80,209.40 L302.30,208.90 L302.80,208.41 L303.30,207.92 L303.80,207.44 L304.30,206.97 L304.80,206.50 L305.30,206.05 L305.80,205.61 L306.30,205.17 L306.80,204.75 L307.30,204.34 L307.80,203.94 L308.30,203.56 L308.80,203.18 L309.30,202.82 L309.80,202.46 L310.30,202.12 L310.80,201.78 L311.30,201.45 L311.80,201.14 L312.30,200.82 L312.80,200.52 L313.30,200.22 L313.80,199.92 L314.30,199.63 L314.80,199.34 L315.30,199.06 L315.80,198.78 L316.30,198.50 L316.80,198.22 L317.30,197.95 L317.80,197.67 L318.30,197.40 L318.80,197.13 L319.30,196.86 L319.80,196.59 L320.30,196.32 L320.80,196.06 L321.30,195.79 L321.80,195.52 L322.30,195.26 L322.80,194.99 L323.30,194.73 L323.80,194.46 L324.30,194.19 L324.80,193.93 L325.30,193.66 L325.80,193.40 L326.30,193.14 L326.80,192.87 L327.30,192.61 L327.80,192.34 L328.30,192.08 L328.80,191.81 L329.30,191.55 L329.80,191.28 L330.30,191.02 L330.80,190.76 L331.30,190.49 L331.80,190.23 L332.30,189.96 L332.80,189.70 L333.30,189.44 L333.80,189.17 L334.30,188.91 L334.80,188.64 L335.30,188.38 L335.80,188.12 L336.30,187.85 L336.80,187.59 L337.30,187.33 L337.80,187.06 L338.30,186.80 L338.80,186.54 L339.30,186.28 L339.80,186.01 L340.30,185.75 L340.80,185.49 L341.30,185.23 L341.80,184.96 L342.30,184.70 L342.80,184.44 L343.30,184.18 L343.80,183.92 L344.30,183.66 L344.80,183.40 L345.30,183.14 L345.80,182.88 L346.30,182.62 L346.80,182.36 L347.30,182.10 L347.80,181.85 L348.30,181.59 L348.80,181.34 L349.30,181.08 L349.80,180.83 L350.30,180.58 L350.80,180.33 L351.30,180.08 L351.80,179.83 L352.30,179.59 L352.80,179.34 L353.30,179.10 L353.80,178.86 L354.30,178.62 L354.80,178.39 L355.30,178.15 L355.80,177.92 L356.30,177.70 L356.80,177.48 L357.30,177.26 L357.80,177.04 L358.30,176.83 L358.80,176.62 L359.30,176.42 L359.80,176.22 L360.30,176.03 L360.80,175.84 L361.30,175.65 L361.80,175.48 L362.30,175.30 L362.80,175.13 L363.30,174.96 L363.80,174.80 L364.30,174.64 L364.80,174.49 L365.30,174.34 L365.80,174.18 L366.30,174.04 L366.80,173.89 L367.30,173.75 L367.80,173.60 L368.30,173.46 L368.80,173.32 L369.30,173.19 L369.80,173.06 L370.30,172.93 L370.80,172.81 L371.30,172.70 L371.80,172.59 L372.30,172.50 L372.80,172.42 L373.30,172.35 L373.80,172.29 L374.30,172.25 L374.80,172.22 L375.30,172.20 L375.80,172.19 L376.30,172.20 L376.80,172.22 L377.30,172.24 L377.80,172.28 L378.30,172.32 L378.80,172.36 L379.30,172.41 L379.80,172.45 L380.30,172.50 L380.80,172.54 L381.30,172.59 L381.80,172.62 L382.30,172.66 L382.80,172.69 L383.30,172.71 L383.80,172.74 L384.30,172.75 L384.80,172.77 L385.30,172.78 L385.80,172.79 L386.30,172.80 L386.80,172.80 L387.30,172.81 L387.80,172.81 L388.30,172.81 L388.80,172.81 L389.30,172.81 L389.80,172.81 L390.30,172.81 L390.80,172.81 L391.30,172.81 L391.80,172.81 L392.30,172.81 L392.80,172.81 L393.30,172.81 L393.80,172.81 L394.30,172.81 L394.80,172.81 L395.30,172.81 L395.80,172.80 L396.30,172.80 L396.80,172.80 L397.30,172.80 L397.80,172.80 L398.30,172.80 L398.80,172.80 L399.30,172.80 L399.80,172.80 L400.30,172.80 L400.80,172.80 L401.30,172.80 L401.80,172.80 L402.30,172.80 L402.80,172.80 L403.30,172.80 L403.80,172.80 L404.30,172.80 L404.80,172.80 L405.30,172.80 L405.80,172.80 L406.30,172.80 L406.80,172.80 L407.30,172.80 L407.80,172.80 L408.30,172.80 L408.80,172.80 L409.30,172.80 L409.80,172.80 L410.30,172.80 L410.80,172.80 L411.30,172.80 L411.80,172.80 L412.30,172.80 L412.80,172.80 L413.30,172.80 L413.80,172.80 L414.30,172.80 L414.80,172.80 L415.30,172.80 L415.80,172.80 L416.30,172.80 L416.80,172.80 L417.30,172.80 L417.80,172.80 L418.30,172.80 L418.80,172.80 L419.30,172.80 L419.80,172.80 L420.30,172.80 L420.80,172.80 L421.30,172.80 L421.80,172.80 L422.30,172.80 L422.80,172.80 L423.30,172.80 L423.80,172.80 L424.30,172.80 L424.80,172.80 L425.30,172.80 L425.80,172.80 L426.30,172.80 L426.80,172.80 L427.30,172.80 L427.80,172.80 L428.30,172.80 L428.80,172.80 L429.30,172.80 L429.80,172.80 L430.30,172.80 L430.80,172.80 L431.30,172.80 L431.80,172.80 L432.30,172.80 L432.80,172.80 L433.30,172.80 L433.80,172.80 L434.30,172.80 L434.80,172.80 L435.30,172.80 L435.80,172.80 L436.30,172.80 L436.80,172.80 L437.30,172.80 L437.80,172.80 L438.30,172.80 L438.80,172.80 L439.30,172.80 L439.80,172.80 L440.30,172.80 L440.80,172.80 L441.30,172.80 L441.80,172.80 L442.30,172.80 L442.80,172.80 L443.30,172.80 L443.80,172.80 L444.30,172.80 L444.80,172.80 L445.30,172.80 L445.80,172.80" fill="none" stroke="#38a838" stroke-width="1.6" stroke-linejoin="round" stroke-linecap="butt" clip-path="url(#c3)"/>
<line x1="297.51" y1="229.5" x2="297.51" y2="227.6" stroke="#8a8a8a" stroke-width="0.8"/>
<line x1="297.51" y1="161.3" x2="297.51" y2="163.20000000000002" stroke="#8a8a8a" stroke-width="0.8"/>
<line x1="318.72" y1="229.5" x2="318.72" y2="227.6" stroke="#8a8a8a" stroke-width="0.8"/>
<line x1="318.72" y1="161.3" x2="318.72" y2="163.20000000000002" stroke="#8a8a8a" stroke-width="0.8"/>
<line x1="339.93" y1="229.5" x2="339.93" y2="227.6" stroke="#8a8a8a" stroke-width="0.8"/>
<line x1="339.93" y1="161.3" x2="339.93" y2="163.20000000000002" stroke="#8a8a8a" stroke-width="0.8"/>
<line x1="361.14" y1="229.5" x2="361.14" y2="227.6" stroke="#8a8a8a" stroke-width="0.8"/>
<line x1="361.14" y1="161.3" x2="361.14" y2="163.20000000000002" stroke="#8a8a8a" stroke-width="0.8"/>
<line x1="382.35" y1="229.5" x2="382.35" y2="227.6" stroke="#8a8a8a" stroke-width="0.8"/>
<line x1="382.35" y1="161.3" x2="382.35" y2="163.20000000000002" stroke="#8a8a8a" stroke-width="0.8"/>
<line x1="403.56" y1="229.5" x2="403.56" y2="227.6" stroke="#8a8a8a" stroke-width="0.8"/>
<line x1="403.56" y1="161.3" x2="403.56" y2="163.20000000000002" stroke="#8a8a8a" stroke-width="0.8"/>
<line x1="424.77" y1="229.5" x2="424.77" y2="227.6" stroke="#8a8a8a" stroke-width="0.8"/>
<line x1="424.77" y1="161.3" x2="424.77" y2="163.20000000000002" stroke="#8a8a8a" stroke-width="0.8"/>
<line x1="276.5" y1="201.13500000000002" x2="278.4" y2="201.13500000000002" stroke="#8a8a8a" stroke-width="0.8"/>
<line x1="446.0" y1="201.13500000000002" x2="444.1" y2="201.13500000000002" stroke="#8a8a8a" stroke-width="0.8"/>
<line x1="276.5" y1="172.8" x2="278.4" y2="172.8" stroke="#8a8a8a" stroke-width="0.8"/>
<line x1="446.0" y1="172.8" x2="444.1" y2="172.8" stroke="#8a8a8a" stroke-width="0.8"/>
<text x="272.8" y="176.8" font-size="10" text-anchor="end" font-weight="normal" fill="#2a2a2a">0</text>
<text x="272.8" y="205.13500000000002" font-size="10" text-anchor="end" font-weight="normal" fill="#2a2a2a">-50</text>
<text x="272.8" y="233.47000000000003" font-size="10" text-anchor="end" font-weight="normal" fill="#2a2a2a">-100</text>
<text x="359.14" y="242.9" font-size="10" text-anchor="middle" fill="#2a2a2a">10</text>
<text x="364.73999999999995" y="238.70000000000002" font-size="8" text-anchor="start" fill="#2a2a2a">0</text>
<text x="361.3" y="258.8" font-size="11" text-anchor="middle" font-weight="normal" fill="#262626">Frequency (rad/s)</text>
<text x="0" y="0" font-size="11" text-anchor="middle" fill="#262626" transform="translate(247.8,194.9) rotate(-90)">Magnitude (dB)</text>
<text x="363.3" y="143.5" font-size="11" text-anchor="middle" font-weight="bold" fill="#1a1a1a">Sensitivity (Magnitude)</text>
<path d="M512.60,188.20 C514.40,188.23 516.15,188.24 518.00,188.30 C519.95,188.37 522.00,188.48 524.00,188.60 C526.00,188.72 527.74,188.89 530.00,189.00 C532.91,189.14 536.09,189.23 540.00,189.30 C545.52,189.40 550.51,189.38 560.00,189.40 C583.44,189.46 641.33,189.40 682.00,189.40" fill="none" stroke="#1f78c8" stroke-width="1.5" stroke-linejoin="round" stroke-linecap="butt" clip-path="url(#c4)"/>
<path d="M512.60,181.40 C513.73,181.70 514.47,181.97 516.00,182.30 C519.07,182.96 525.51,183.91 530.00,184.60 C534.15,185.23 538.18,185.80 542.00,186.30 C545.48,186.76 548.66,187.13 552.00,187.50 C555.33,187.87 558.61,188.22 562.00,188.50 C565.50,188.79 568.31,189.04 572.70,189.20 C579.70,189.45 588.46,189.36 600.00,189.40 C620.00,189.47 654.67,189.40 682.00,189.40" fill="none" stroke="#dd5d20" stroke-width="1.5" stroke-linejoin="round" stroke-linecap="butt" clip-path="url(#c4)"/>
<path d="M512.60,189.40 C512.80,176.27 512.99,162.74 513.20,150.00 C513.39,137.99 513.57,125.32 513.80,115.00 C513.98,106.82 514.13,99.51 514.40,93.00 C514.62,87.81 514.73,82.15 515.20,79.00 C515.44,77.36 515.80,75.30 516.10,75.30 C516.40,75.30 516.75,77.40 517.00,79.00 C517.45,81.84 517.63,86.44 517.90,91.00 C518.25,97.02 518.45,105.27 518.80,112.00 C519.12,118.23 519.39,124.88 519.90,130.00 C520.28,133.83 520.87,136.51 521.30,140.00 C521.77,143.81 522.20,147.84 522.60,152.00 C523.04,156.48 523.49,161.72 523.80,166.00 C524.06,169.61 524.14,172.91 524.40,176.00 C524.62,178.68 524.88,181.13 525.20,183.50 C525.49,185.64 525.71,187.67 526.20,189.60 C526.66,191.42 527.40,193.23 528.00,194.80 C528.50,196.12 528.92,197.33 529.50,198.40 C530.01,199.34 530.54,200.23 531.20,200.90 C531.79,201.50 532.50,202.04 533.20,202.30 C533.84,202.54 534.45,202.53 535.20,202.50 C536.17,202.46 537.33,202.06 538.50,201.90 C539.81,201.72 541.22,201.53 542.70,201.50 C544.36,201.47 545.98,201.70 548.00,201.80 C550.71,201.93 554.28,202.23 557.50,202.20 C560.84,202.17 564.49,201.98 567.70,201.60 C570.62,201.25 573.11,200.64 576.00,200.10 C579.18,199.51 582.38,198.85 586.00,198.20 C590.27,197.43 595.33,196.60 600.00,195.80 C604.67,195.00 609.61,194.13 614.00,193.40 C617.89,192.75 621.42,192.11 625.00,191.60 C628.41,191.12 631.66,190.70 635.00,190.40 C638.33,190.10 641.33,189.96 645.00,189.80 C649.49,189.61 654.52,189.51 660.00,189.40 C666.63,189.27 674.67,189.20 682.00,189.10" fill="none" stroke="#edb125" stroke-width="1.5" stroke-linejoin="round" stroke-linecap="butt" clip-path="url(#c4)"/>
<path d="M512.60,189.40 C512.60,176.27 512.54,163.91 512.60,150.00 C512.66,134.32 512.85,112.91 513.00,100.00 C513.09,91.83 513.14,86.49 513.30,80.00 C513.45,73.84 513.68,67.39 513.90,62.00 C514.08,57.60 514.25,53.01 514.50,50.00 C514.65,48.17 514.74,46.80 515.00,45.60 C515.19,44.73 515.47,43.40 515.70,43.40 C515.93,43.40 516.22,44.69 516.40,45.60 C516.68,46.99 516.72,48.88 516.90,51.00 C517.16,54.02 517.51,58.18 517.80,62.00 C518.11,66.15 518.41,70.51 518.70,75.00 C519.01,79.82 519.34,84.52 519.60,90.00 C519.92,96.63 520.06,104.23 520.40,112.00 C520.78,120.77 521.19,132.62 521.80,140.00 C522.20,144.84 522.79,147.84 523.20,152.00 C523.64,156.48 524.00,161.72 524.30,166.00 C524.55,169.61 524.66,172.97 524.90,176.00 C525.10,178.54 525.36,180.72 525.60,183.00 C525.83,185.18 526.02,186.91 526.30,189.40 C526.70,192.90 527.21,198.42 527.80,202.00 C528.25,204.69 528.76,206.72 529.30,209.00 C529.83,211.21 530.33,213.53 531.00,215.50 C531.59,217.22 532.26,218.85 533.00,220.20 C533.62,221.32 534.20,222.39 535.00,223.10 C535.70,223.73 536.56,224.25 537.40,224.40 C538.23,224.54 539.10,224.42 540.00,224.00 C541.27,223.41 542.71,221.80 544.00,220.50 C545.39,219.09 546.68,217.40 548.00,215.80 C549.35,214.17 550.64,212.38 552.00,210.80 C553.31,209.29 554.52,207.87 556.00,206.50 C557.59,205.03 559.39,203.66 561.30,202.30 C563.37,200.82 565.58,199.31 568.00,198.00 C570.62,196.59 573.54,195.24 576.50,194.20 C579.54,193.13 582.82,192.35 586.00,191.70 C589.12,191.06 591.91,190.64 595.40,190.30 C599.72,189.88 603.29,189.77 610.00,189.60 C624.90,189.22 658.00,189.47 682.00,189.40" fill="none" stroke="#7a10d2" stroke-width="1.5" stroke-linejoin="round" stroke-linecap="butt" clip-path="url(#c4)"/>
<path d="M512.60,189.40 C569.07,189.40 625.53,189.40 682.00,189.40" fill="none" stroke="#38a838" stroke-width="2.2" stroke-linejoin="round" stroke-linecap="butt" clip-path="url(#c4)"/>
<line x1="580.3" y1="229.5" x2="580.3" y2="227.6" stroke="#8a8a8a" stroke-width="0.8"/>
<line x1="580.3" y1="31.0" x2="580.3" y2="32.9" stroke="#8a8a8a" stroke-width="0.8"/>
<line x1="648.1" y1="229.5" x2="648.1" y2="227.6" stroke="#8a8a8a" stroke-width="0.8"/>
<line x1="648.1" y1="31.0" x2="648.1" y2="32.9" stroke="#8a8a8a" stroke-width="0.8"/>
<line x1="512.5" y1="189.4" x2="514.4" y2="189.4" stroke="#8a8a8a" stroke-width="0.8"/>
<line x1="682.0" y1="189.4" x2="680.1" y2="189.4" stroke="#8a8a8a" stroke-width="0.8"/>
<line x1="512.5" y1="149.78" x2="514.4" y2="149.78" stroke="#8a8a8a" stroke-width="0.8"/>
<line x1="682.0" y1="149.78" x2="680.1" y2="149.78" stroke="#8a8a8a" stroke-width="0.8"/>
<line x1="512.5" y1="110.16" x2="514.4" y2="110.16" stroke="#8a8a8a" stroke-width="0.8"/>
<line x1="682.0" y1="110.16" x2="680.1" y2="110.16" stroke="#8a8a8a" stroke-width="0.8"/>
<line x1="512.5" y1="70.53999999999999" x2="514.4" y2="70.53999999999999" stroke="#8a8a8a" stroke-width="0.8"/>
<line x1="682.0" y1="70.53999999999999" x2="680.1" y2="70.53999999999999" stroke="#8a8a8a" stroke-width="0.8"/>
<text x="508.5" y="34.91999999999999" font-size="10" text-anchor="end" font-weight="normal" fill="#2a2a2a">2000</text>
<text x="508.5" y="74.53999999999999" font-size="10" text-anchor="end" font-weight="normal" fill="#2a2a2a">1500</text>
<text x="508.5" y="114.16" font-size="10" text-anchor="end" font-weight="normal" fill="#2a2a2a">1000</text>
<text x="508.5" y="153.78" font-size="10" text-anchor="end" font-weight="normal" fill="#2a2a2a">500</text>
<text x="508.5" y="193.4" font-size="10" text-anchor="end" font-weight="normal" fill="#2a2a2a">0</text>
<text x="508.5" y="233.02" font-size="10" text-anchor="end" font-weight="normal" fill="#2a2a2a">-500</text>
<text x="512.5" y="241.6" font-size="10" text-anchor="middle" font-weight="normal" fill="#2a2a2a">0</text>
<text x="580.3" y="241.6" font-size="10" text-anchor="middle" font-weight="normal" fill="#2a2a2a">0.02</text>
<text x="648.1" y="241.6" font-size="10" text-anchor="middle" font-weight="normal" fill="#2a2a2a">0.04</text>
<text x="597.8" y="256.7" font-size="11" text-anchor="middle" font-weight="normal" fill="#262626">Time (seconds)</text>
<text x="0" y="0" font-size="11" text-anchor="middle" fill="#262626" transform="translate(476.5,130.0) rotate(-90)">Amplitude</text>
<text x="597.7" y="12.7" font-size="11" text-anchor="middle" font-weight="bold" fill="#1a1a1a">Control Effort Step Response</text>
<rect x="595.7" y="37.0" width="80.9" height="55" fill="#ffffff" stroke="#b4b4b4" stroke-width="1"/>
<line x1="598" y1="43.2" x2="620" y2="43.2" stroke="#1f78c8" stroke-width="1.7"/>
<text x="621.8" y="45.800000000000004" font-size="9.6" fill="#1e1e1e">ZN-PID</text>
<line x1="598" y1="53.9" x2="620" y2="53.9" stroke="#dd5d20" stroke-width="1.7"/>
<text x="621.8" y="56.5" font-size="9.6" fill="#1e1e1e">GA-ISE-PID</text>
<line x1="598" y1="64.6" x2="620" y2="64.6" stroke="#edb125" stroke-width="1.7"/>
<text x="621.8" y="67.19999999999999" font-size="9.6" fill="#1e1e1e">QFT Manual</text>
<line x1="598" y1="75.3" x2="620" y2="75.3" stroke="#7a10d2" stroke-width="1.6"/>
<text x="621.8" y="77.89999999999999" font-size="9.6" fill="#1e1e1e">QFT-PSV</text>
<line x1="598" y1="86.0" x2="620" y2="86.0" stroke="#38a838" stroke-width="2.2"/>
<text x="621.8" y="88.6" font-size="9.6" fill="#1e1e1e">Proposed</text>
</svg>
</body></html>
